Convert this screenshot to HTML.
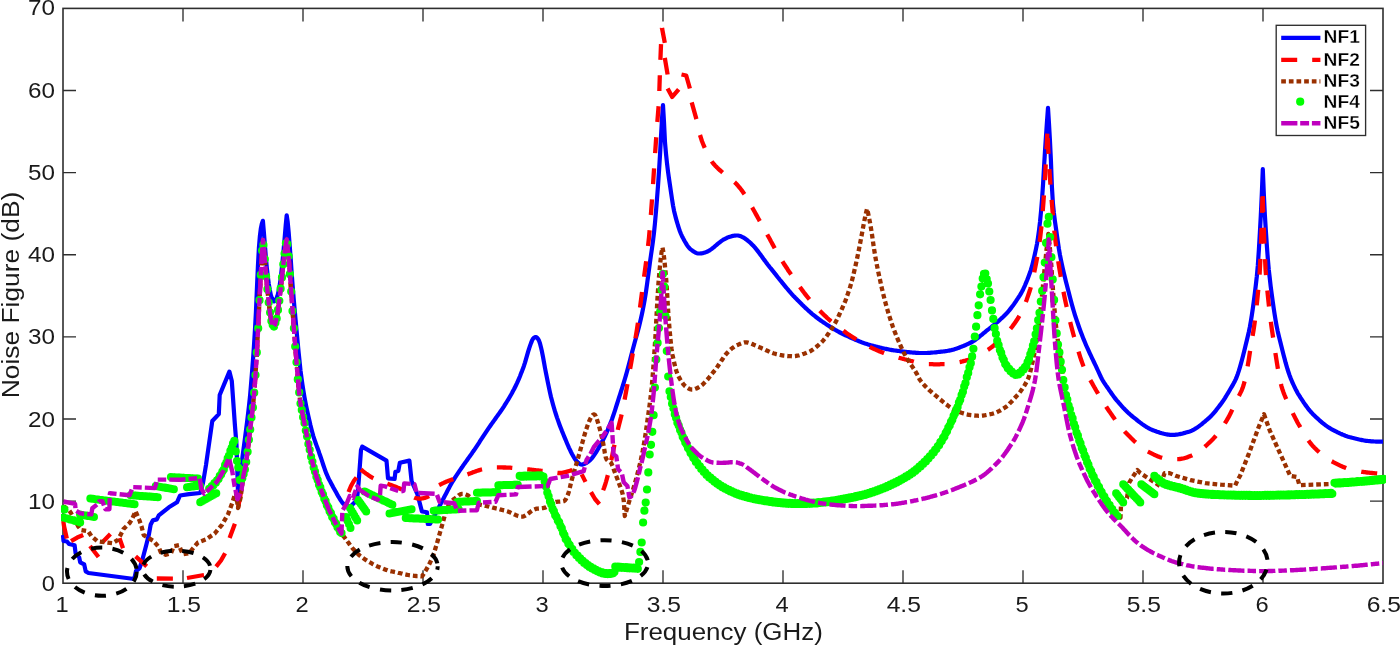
<!DOCTYPE html>
<html lang="en"><head><meta charset="utf-8"><title>Noise Figure vs Frequency</title>
<style>html,body{margin:0;padding:0;background:#fff}body{width:1400px;height:645px;overflow:hidden}svg{display:block}</style></head>
<body>
<svg width="1400" height="645" viewBox="0 0 1400 645">
<rect width="1400" height="645" fill="#fff"/>
<defs><clipPath id="c"><rect x="61.0" y="8.4" width="1325.0" height="574.8"/></clipPath></defs>
<g stroke="#2e2e2e" stroke-width="1.6" fill="none">
<rect x="63.0" y="8.4" width="1320.0" height="574.8"/>
<path d="M183.0 583.2v-13M183.0 8.4v13M303.0 583.2v-13M303.0 8.4v13M423.0 583.2v-13M423.0 8.4v13M543.0 583.2v-13M543.0 8.4v13M663.0 583.2v-13M663.0 8.4v13M783.0 583.2v-13M783.0 8.4v13M903.0 583.2v-13M903.0 8.4v13M1023.0 583.2v-13M1023.0 8.4v13M1143.0 583.2v-13M1143.0 8.4v13M1263.0 583.2v-13M1263.0 8.4v13M63.0 501.1h13M1383.0 501.1h-13M63.0 419.0h13M1383.0 419.0h-13M63.0 336.9h13M1383.0 336.9h-13M63.0 254.7h13M1383.0 254.7h-13M63.0 172.6h13M1383.0 172.6h-13M63.0 90.5h13M1383.0 90.5h-13" stroke-width="1.35"/>
</g>
<g fill="none" stroke-linejoin="round" clip-path="url(#c)">
<path d="M63.0 535.0L63.5 541.0L67.0 541.5L69.0 544.0L74.6 545.2L75.6 553.3L79.2 557.3L80.2 562.3L84.2 564.4L85.7 571.4L88.5 573.0L134.3 579.0L136.0 571.0L139.5 568.4L142.5 559.3L146.2 545.2L149.0 534.0L150.7 524.4L152.8 520.4L156.8 519.4L158.8 515.4L168.9 507.3L177.0 502.3L180.0 495.5L189.0 494.2L200.2 493.0L203.0 483.0L206.0 465.0L212.3 421.0L218.8 414.1L219.7 395.0L229.4 371.6L231.8 381.0L234.9 425.0L236.5 445.0L238.0 492.0L239.0 484.2L240.0 476.4L241.0 468.5L242.0 460.7L243.0 453.0L244.0 445.5L245.0 437.9L246.0 430.3L247.0 422.4L248.0 414.3L249.0 405.8L250.0 396.6L250.9 385.9L251.9 373.7L252.9 360.8L253.9 346.8L254.9 330.9L255.9 312.5L256.9 289.2L257.9 266.6L258.9 247.9L259.9 236.0L260.9 228.1L261.9 223.4L262.9 220.8L263.9 232.6L264.9 244.9L265.9 257.9L266.9 268.6L267.9 277.2L268.8 284.1L269.8 289.8L270.8 294.8L271.8 297.8L272.8 300.0L273.8 301.4L274.8 301.2L275.8 299.7L276.8 297.5L277.8 294.6L278.8 290.0L279.8 284.4L280.8 277.8L281.7 269.2L282.7 259.7L283.7 248.9L284.7 237.4L285.7 225.3L286.7 215.3L287.7 222.1L288.7 232.6L289.7 245.6L290.7 258.7L291.6 272.2L292.6 285.4L293.6 297.6L294.6 309.2L295.6 320.3L296.6 331.0L297.6 341.6L298.6 352.1L299.6 361.8L300.5 370.4L301.5 378.0L302.5 385.0L303.5 391.4L304.5 397.3L305.5 402.6L306.5 407.6L307.5 412.3L308.5 416.7L309.5 420.9L310.4 425.0L311.4 429.0L312.4 432.8L313.4 436.3L314.4 439.4L315.4 442.3L316.4 445.1L317.4 447.8L318.4 450.4L319.3 453.2L320.3 456.0L321.3 458.9L322.3 461.9L323.3 465.0L324.3 467.9L325.3 470.7L326.3 473.4L327.3 475.7L328.2 477.8L329.2 479.7L330.2 481.5L331.2 483.4L332.2 485.3L333.2 487.2L334.2 489.0L335.2 490.8L336.2 492.6L337.2 494.4L338.1 496.1L339.1 497.7L340.1 499.3L341.1 500.9L342.1 502.4L343.1 503.5L344.1 504.3L345.1 505.0L346.1 505.5L347.0 505.8L348.0 506.1L349.0 506.2L350.0 506.2L351.0 506.0L357.0 500.0L358.6 482.7L361.0 450.0L362.2 446.6L386.5 460.6L388.0 478.3L394.6 479.0L395.4 471.7L398.3 470.9L399.8 462.8L409.4 460.6L411.6 481.2L417.5 494.5L421.9 511.4L427.0 512.2L427.8 524.0L430.0 524.0L431.0 522.1L432.0 520.2L433.0 518.3L434.0 516.5L435.0 514.6L436.0 512.7L437.0 510.8L438.0 508.9L439.0 507.1L440.0 505.2L441.0 503.3L442.0 501.4L443.0 499.5L444.0 497.5L445.0 495.6L446.0 493.7L447.0 491.7L448.0 489.8L449.0 487.9L450.0 486.1L451.0 484.3L452.0 482.5L453.0 480.9L454.0 479.3L455.0 477.7L456.0 476.1L457.0 474.6L458.0 473.1L459.0 471.6L460.0 470.1L461.0 468.7L462.0 467.3L463.0 465.8L464.0 464.4L465.0 463.0L466.0 461.6L467.0 460.2L468.0 458.8L469.0 457.4L470.0 456.0L471.0 454.6L472.0 453.2L473.0 451.7L474.0 450.3L475.0 448.8L476.0 447.3L477.0 445.8L478.0 444.3L479.0 442.8L480.0 441.2L481.0 439.7L482.0 438.2L483.0 436.6L484.0 435.1L485.0 433.6L486.0 432.1L487.0 430.6L488.0 429.1L489.0 427.6L490.0 426.2L491.0 424.8L492.0 423.4L493.0 422.0L494.0 420.6L495.0 419.2L496.0 417.8L497.0 416.4L498.0 415.0L499.0 413.6L500.0 412.2L501.0 410.8L502.0 409.3L503.0 407.8L504.0 406.3L505.0 404.7L506.0 403.1L507.0 401.5L508.0 399.9L509.0 398.2L510.0 396.5L511.0 394.8L512.0 393.0L513.0 391.1L514.0 389.3L515.0 387.3L516.0 385.3L517.0 383.2L518.0 380.9L519.0 378.6L520.0 376.2L521.0 373.6L522.0 371.1L523.0 368.4L524.0 365.7L525.0 362.6L526.0 359.2L527.0 355.7L528.0 352.2L529.0 348.9L530.0 345.9L531.0 343.1L532.0 340.6L533.0 338.8L534.0 337.8L535.0 337.1L536.0 337.0L537.0 337.7L538.0 338.9L539.0 340.6L540.0 343.5L541.0 347.4L542.0 351.8L543.0 356.9L544.0 362.4L545.0 368.0L546.0 373.2L547.0 378.2L548.0 383.1L549.0 387.9L550.0 392.6L551.0 396.9L552.0 400.8L553.0 404.5L554.0 408.0L555.0 411.4L556.0 414.5L557.0 417.6L558.0 420.4L559.0 423.2L560.0 425.9L561.0 428.5L562.0 431.1L563.0 433.5L564.0 436.0L565.0 438.4L566.0 440.8L567.0 443.2L568.0 445.5L569.0 447.8L570.0 449.9L571.0 452.0L572.0 453.9L573.0 455.7L574.0 457.5L575.0 459.1L576.0 460.5L577.0 461.6L578.0 462.5L579.0 463.4L580.0 464.1L581.0 464.5L582.0 464.6L583.0 464.4L584.0 464.0L585.0 463.5L586.0 463.0L587.0 462.5L588.0 461.8L589.0 461.0L590.0 460.2L591.0 459.2L592.0 458.1L593.0 456.8L594.0 455.4L595.0 453.9L596.0 452.4L597.0 450.7L598.0 449.0L599.0 447.2L600.0 445.4L601.0 443.6L602.0 441.7L603.0 439.9L604.0 438.0L605.0 436.0L606.0 433.9L607.0 431.6L608.0 429.3L609.0 426.9L610.0 424.4L611.0 421.9L612.0 419.2L613.0 416.3L614.0 413.4L615.0 410.3L616.0 407.2L617.0 404.0L618.0 400.9L619.0 397.7L620.0 394.6L621.0 391.5L622.0 388.3L623.0 385.1L624.0 381.9L625.0 378.5L626.0 375.1L627.0 371.5L628.0 367.9L629.0 364.1L630.0 360.2L631.0 356.4L632.0 352.5L633.0 348.7L634.0 345.0L635.0 341.3L636.0 337.7L637.0 334.1L638.0 330.4L639.0 326.6L640.0 322.6L641.0 318.3L642.0 313.8L643.0 308.9L644.0 303.7L645.0 298.0L646.0 291.6L647.0 284.5L648.0 277.0L649.0 269.4L650.0 262.0L651.0 255.0L652.0 248.2L653.0 241.0L654.0 232.8L655.0 222.9L656.0 211.3L657.0 198.9L658.0 185.8L659.0 171.1L660.0 155.0L661.0 136.5L662.0 118.8L663.0 105.0L664.0 122.0L665.0 142.5L666.0 153.8L667.0 163.3L668.0 171.4L669.0 178.6L670.0 185.4L671.0 192.3L672.0 199.0L673.0 205.3L674.0 210.7L675.0 214.8L676.0 218.6L677.0 222.1L678.0 225.5L679.0 228.6L680.0 231.5L681.0 234.0L682.0 236.2L683.0 238.1L684.0 239.9L685.0 241.7L686.0 243.4L687.0 245.1L688.0 246.5L689.0 247.8L690.0 248.8L691.0 249.6L692.0 250.3L693.0 251.1L694.0 251.7L695.0 252.4L696.0 252.9L697.0 253.3L698.0 253.5L699.0 253.5L700.0 253.5L701.0 253.4L702.0 253.3L703.0 253.1L704.0 252.8L705.0 252.5L706.0 252.1L707.0 251.7L708.0 251.3L709.0 250.7L710.0 250.1L711.0 249.4L712.0 248.7L713.0 247.9L714.0 247.1L715.0 246.2L716.0 245.4L717.0 244.5L718.0 243.7L719.0 242.9L720.0 242.1L721.0 241.3L722.0 240.6L723.0 239.9L724.0 239.3L725.0 238.8L726.0 238.3L727.0 237.8L728.0 237.4L729.0 237.0L730.0 236.7L731.0 236.4L732.0 236.1L733.0 235.9L734.0 235.7L735.0 235.6L736.0 235.5L737.0 235.5L738.0 235.5L739.0 235.7L740.0 236.0L741.0 236.3L742.0 236.8L743.0 237.3L744.0 237.9L745.0 238.5L746.0 239.3L747.0 240.0L748.0 240.8L749.0 241.6L750.0 242.5L751.0 243.4L752.0 244.4L753.0 245.4L754.0 246.5L755.0 247.7L756.0 248.9L757.0 250.1L758.0 251.4L759.0 252.7L760.0 254.1L761.0 255.4L762.0 256.8L763.0 258.2L764.0 259.6L765.0 260.9L766.0 262.3L767.0 263.6L768.0 265.0L769.0 266.2L770.0 267.5L771.0 268.7L772.0 269.9L773.0 271.2L774.0 272.4L775.0 273.7L776.0 274.9L777.0 276.2L778.0 277.5L779.0 278.7L780.0 280.0L781.0 281.2L782.0 282.4L783.0 283.7L784.0 284.9L785.0 286.1L786.0 287.3L787.0 288.5L788.0 289.7L789.0 290.9L790.0 292.0L791.0 293.2L792.0 294.3L793.0 295.4L794.0 296.4L795.0 297.5L796.0 298.5L797.0 299.5L798.0 300.6L799.0 301.6L800.0 302.6L801.0 303.6L802.0 304.6L803.0 305.5L804.0 306.5L805.0 307.4L806.0 308.4L807.0 309.3L808.0 310.2L809.0 311.1L810.0 312.0L811.0 312.9L812.0 313.8L813.0 314.6L814.0 315.4L815.0 316.2L816.0 317.0L817.0 317.8L818.0 318.5L819.0 319.3L820.0 320.0L821.0 320.7L822.0 321.4L823.0 322.1L824.0 322.7L825.0 323.4L826.0 324.1L827.0 324.8L828.0 325.4L829.0 326.0L830.0 326.7L831.0 327.3L832.0 327.9L833.0 328.5L834.0 329.1L835.0 329.7L836.0 330.3L837.0 330.9L838.0 331.4L839.0 332.0L840.0 332.5L841.0 333.0L842.0 333.5L843.0 334.0L844.0 334.5L845.0 335.0L846.0 335.5L847.0 335.9L848.0 336.4L849.0 336.8L850.0 337.3L851.0 337.8L852.0 338.2L853.0 338.6L854.0 339.1L855.0 339.5L856.0 340.0L857.0 340.4L858.0 340.8L859.0 341.2L860.0 341.6L861.0 342.0L862.0 342.4L863.0 342.7L864.0 343.1L865.0 343.5L866.0 343.8L867.0 344.1L868.0 344.4L869.0 344.7L870.0 345.0L871.0 345.3L872.0 345.5L873.0 345.8L874.0 346.1L875.0 346.3L876.0 346.6L877.0 346.8L878.0 347.1L879.0 347.3L880.0 347.6L881.0 347.8L882.0 348.1L883.0 348.3L884.0 348.5L885.0 348.7L886.0 348.9L887.0 349.1L888.0 349.3L889.0 349.5L890.0 349.7L891.0 349.9L892.0 350.1L893.0 350.2L894.0 350.4L895.0 350.5L896.0 350.6L897.0 350.8L898.0 350.9L899.0 351.0L900.0 351.2L901.0 351.3L902.0 351.4L903.0 351.5L904.0 351.7L905.0 351.8L906.0 351.9L907.0 352.0L908.0 352.1L909.0 352.2L910.0 352.3L911.0 352.4L912.0 352.5L913.0 352.6L914.0 352.7L915.0 352.7L916.0 352.8L917.0 352.9L918.0 352.9L919.0 353.0L920.0 353.0L921.0 353.0L922.0 353.0L923.0 353.0L924.0 353.0L925.0 353.0L926.0 353.0L927.0 353.0L928.0 352.9L929.0 352.8L930.0 352.8L931.0 352.7L932.0 352.6L933.0 352.5L934.0 352.5L935.0 352.4L936.0 352.3L937.0 352.2L938.0 352.0L939.0 351.9L940.0 351.8L941.0 351.7L942.0 351.6L943.0 351.5L944.0 351.4L945.0 351.3L946.0 351.1L947.0 351.0L948.0 350.8L949.0 350.6L950.0 350.4L951.0 350.2L952.0 349.9L953.0 349.7L954.0 349.4L955.0 349.1L956.0 348.8L957.0 348.4L958.0 348.1L959.0 347.7L960.0 347.3L961.0 346.9L962.0 346.5L963.0 346.1L964.0 345.7L965.0 345.3L966.0 344.8L967.0 344.4L968.0 343.9L969.0 343.5L970.0 343.0L971.0 342.5L972.0 342.0L973.0 341.4L974.0 340.7L975.0 340.1L976.0 339.3L977.0 338.6L978.0 337.8L979.0 337.0L980.0 336.2L981.0 335.4L982.0 334.6L983.0 333.7L984.0 332.9L985.0 332.1L986.0 331.2L987.0 330.4L988.0 329.6L989.0 328.9L990.0 328.1L991.0 327.3L992.0 326.5L993.0 325.6L994.0 324.8L995.0 324.0L996.0 323.2L997.0 322.3L998.0 321.5L999.0 320.6L1000.0 319.7L1001.0 318.8L1002.0 317.9L1003.0 317.0L1004.0 316.0L1005.0 315.0L1006.0 314.0L1007.0 313.0L1008.0 311.8L1009.0 310.7L1010.0 309.4L1011.0 308.1L1012.0 306.8L1013.0 305.5L1014.0 304.1L1015.0 302.6L1016.0 301.2L1017.0 299.7L1018.0 298.2L1019.0 296.6L1020.0 295.1L1021.0 293.4L1022.0 291.6L1023.0 289.7L1024.0 287.5L1025.0 285.3L1026.0 282.9L1027.0 280.5L1028.0 277.9L1029.0 275.3L1030.0 272.6L1031.0 269.7L1032.0 266.2L1033.0 262.2L1034.0 258.0L1035.0 253.5L1036.0 248.9L1037.0 243.8L1038.0 237.5L1039.0 230.4L1040.0 222.0L1041.0 211.6L1042.0 199.6L1043.0 184.8L1044.0 167.5L1045.0 150.8L1046.0 135.8L1047.0 121.5L1048.0 107.9L1048.9 122.1L1049.9 139.6L1050.9 160.1L1051.9 186.6L1052.9 203.1L1053.9 213.0L1054.9 220.9L1055.9 227.9L1056.9 235.0L1057.9 242.1L1058.9 248.9L1059.9 254.7L1060.9 259.7L1061.9 264.4L1062.9 268.9L1063.9 273.2L1064.9 277.3L1065.9 281.4L1066.9 285.3L1067.9 289.2L1068.9 293.1L1069.9 297.0L1070.9 300.8L1071.9 304.5L1072.9 308.1L1073.9 311.5L1074.9 314.8L1075.9 317.9L1076.9 320.9L1077.9 323.8L1078.9 326.7L1079.9 329.5L1080.9 332.2L1081.9 334.8L1082.9 337.4L1083.9 339.9L1084.9 342.3L1085.9 344.7L1086.9 347.0L1087.9 349.2L1088.9 351.4L1089.9 353.6L1090.9 355.7L1091.9 357.8L1092.9 359.9L1093.9 362.0L1094.9 364.1L1095.9 366.2L1096.9 368.3L1097.9 370.5L1098.9 372.7L1099.9 374.9L1100.9 377.0L1101.9 378.9L1102.9 380.7L1103.9 382.4L1104.9 383.9L1105.9 385.4L1106.9 386.8L1107.9 388.2L1108.9 389.7L1109.9 391.1L1110.9 392.5L1111.9 394.0L1112.9 395.4L1113.9 396.8L1114.9 398.1L1115.9 399.4L1116.9 400.6L1117.9 401.7L1118.9 402.9L1119.9 404.0L1120.9 405.2L1121.9 406.3L1122.9 407.4L1123.9 408.4L1124.9 409.5L1125.9 410.5L1126.9 411.5L1127.9 412.5L1128.9 413.4L1129.9 414.3L1130.9 415.2L1131.9 416.0L1132.9 416.8L1133.9 417.6L1134.9 418.4L1135.9 419.2L1136.9 420.0L1137.9 420.8L1138.9 421.6L1139.9 422.4L1140.9 423.1L1141.9 423.9L1142.9 424.6L1143.9 425.3L1144.9 425.9L1145.9 426.6L1146.9 427.2L1147.9 427.8L1148.9 428.4L1149.9 428.9L1150.9 429.4L1151.9 429.8L1152.9 430.2L1153.9 430.6L1154.9 430.9L1155.9 431.3L1156.9 431.7L1157.9 432.0L1158.9 432.3L1159.9 432.7L1160.9 433.0L1161.9 433.3L1162.9 433.5L1163.9 433.8L1164.9 434.0L1165.9 434.2L1166.9 434.4L1167.9 434.6L1168.9 434.7L1169.9 434.8L1170.9 434.9L1171.9 434.9L1172.9 434.9L1173.9 434.9L1174.9 434.8L1175.9 434.7L1176.9 434.6L1177.9 434.5L1178.9 434.3L1179.9 434.1L1180.9 433.9L1181.9 433.7L1182.9 433.4L1183.9 433.1L1184.9 432.9L1185.9 432.6L1186.9 432.3L1187.9 432.0L1188.9 431.7L1189.9 431.4L1190.9 431.0L1191.8 430.6L1192.8 430.1L1193.8 429.6L1194.8 429.0L1195.8 428.4L1196.8 427.8L1197.8 427.1L1198.8 426.4L1199.8 425.6L1200.8 424.9L1201.8 424.1L1202.8 423.2L1203.8 422.4L1204.8 421.6L1205.8 420.7L1206.8 419.9L1207.8 419.0L1208.8 418.2L1209.8 417.2L1210.8 416.2L1211.8 415.2L1212.8 414.1L1213.8 413.0L1214.8 411.8L1215.8 410.6L1216.8 409.3L1217.8 408.0L1218.8 406.7L1219.8 405.4L1220.8 404.1L1221.8 402.7L1222.8 401.3L1223.8 399.8L1224.8 398.3L1225.8 396.7L1226.8 395.0L1227.8 393.4L1228.8 391.7L1229.8 390.0L1230.8 388.3L1231.8 386.6L1232.8 384.9L1233.8 383.1L1234.8 381.2L1235.8 379.1L1236.8 376.6L1237.8 373.9L1238.8 370.9L1239.8 367.6L1240.8 364.2L1241.8 360.5L1242.8 356.7L1243.8 352.7L1244.8 348.7L1245.8 344.6L1246.8 340.4L1247.8 336.3L1248.8 332.0L1249.8 327.2L1250.8 321.6L1251.8 315.4L1252.8 308.6L1253.8 301.3L1254.8 293.5L1255.8 285.2L1256.8 276.5L1257.8 265.7L1258.8 250.9L1259.8 233.8L1260.8 215.6L1261.8 194.2L1262.8 169.1L1263.8 193.4L1264.8 213.9L1265.8 229.9L1266.8 244.9L1267.8 258.5L1268.8 269.9L1269.8 278.6L1270.7 286.4L1271.7 294.0L1272.7 301.4L1273.7 308.3L1274.7 314.8L1275.7 320.9L1276.7 326.3L1277.7 331.2L1278.7 335.4L1279.7 339.5L1280.7 343.6L1281.7 347.6L1282.7 351.5L1283.7 355.4L1284.7 359.1L1285.6 362.7L1286.6 366.2L1287.6 369.5L1288.6 372.5L1289.6 375.4L1290.6 378.1L1291.6 380.5L1292.6 382.8L1293.6 385.0L1294.6 387.1L1295.6 389.2L1296.6 391.1L1297.6 393.0L1298.6 394.7L1299.6 396.2L1300.5 397.7L1301.5 399.2L1302.5 400.7L1303.5 402.2L1304.5 403.6L1305.5 405.1L1306.5 406.4L1307.5 407.8L1308.5 409.1L1309.5 410.3L1310.5 411.5L1311.5 412.6L1312.5 413.7L1313.5 414.7L1314.5 415.6L1315.4 416.6L1316.4 417.5L1317.4 418.4L1318.4 419.3L1319.4 420.2L1320.4 421.1L1321.4 422.0L1322.4 422.8L1323.4 423.6L1324.4 424.4L1325.4 425.2L1326.4 425.9L1327.4 426.6L1328.4 427.3L1329.4 427.9L1330.4 428.5L1331.3 429.1L1332.3 429.6L1333.3 430.1L1334.3 430.6L1335.3 431.2L1336.3 431.7L1337.3 432.2L1338.3 432.6L1339.3 433.1L1340.3 433.6L1341.3 434.0L1342.3 434.5L1343.3 434.9L1344.3 435.3L1345.3 435.7L1346.2 436.0L1347.2 436.4L1348.2 436.7L1349.2 437.0L1350.2 437.2L1351.2 437.5L1352.2 437.8L1353.2 438.0L1354.2 438.3L1355.2 438.5L1356.2 438.8L1357.2 439.0L1358.2 439.3L1359.2 439.5L1360.2 439.7L1361.1 439.9L1362.1 440.1L1363.1 440.3L1364.1 440.5L1365.1 440.7L1366.1 440.8L1367.1 440.9L1368.1 441.0L1369.1 441.1L1370.1 441.2L1371.1 441.3L1372.1 441.3L1373.1 441.4L1374.1 441.5L1375.1 441.5L1376.0 441.6L1377.0 441.6L1378.0 441.7L1379.0 441.7L1380.0 441.7L1381.0 441.7L1382.0 441.7L1383.0 441.7" stroke="#0000ff" stroke-width="4.2"/>
<path d="M238.0 508.0L241.0 492.0L243.5 477.0L246.0 464.5L247.0 456.2L248.0 447.8L249.0 439.3L250.0 430.9L251.0 422.4L252.0 414.1L253.0 405.7L254.0 395.6L255.0 382.4L256.0 366.8L257.0 350.0L258.0 330.9L259.0 310.1L260.0 290.1L261.0 270.5L262.0 252.5L263.0 240.0L264.0 249.9L265.0 262.2L266.0 274.6L266.9 285.2L267.9 295.0L268.9 303.7L269.9 312.1L270.9 318.5L271.9 322.7L272.9 325.7L273.9 326.4L274.9 324.8L275.8 321.6L276.8 317.5L277.8 311.7L278.8 304.5L279.8 296.7L280.8 288.0L281.8 278.8L282.8 269.7L283.7 260.6L284.7 252.1L285.7 245.0L286.7 239.5L287.7 247.1L288.7 257.8L289.7 270.8L290.7 284.4L291.7 298.5L292.7 312.4L293.7 326.1L294.7 339.5L295.7 352.1L296.7 364.6L297.7 376.9L298.7 388.2L299.7 397.4L300.6 404.2L301.6 409.6L302.6 414.4L303.6 419.2L304.6 424.2L305.6 429.3L306.6 434.5L307.6 439.6L308.6 444.7L309.6 449.6L310.6 454.3L311.6 458.8L312.6 462.9L313.6 466.8L314.6 470.4L315.6 473.8L316.6 477.0L317.6 480.1L318.6 483.1L319.6 485.9L320.6 488.6L321.6 491.2L322.6 493.9L323.6 496.4L324.6 499.0L325.6 501.5L326.6 503.9L327.6 506.3L328.5 508.6L329.5 510.8L330.5 512.9L331.5 515.0L332.5 517.1L333.5 519.1L334.5 521.1L335.5 523.1L336.5 525.0L337.5 526.8L338.5 528.6L339.5 530.4L340.5 532.0L341.5 533.6" stroke="#ff0000" stroke-width="4.3" stroke-dasharray="15.5 15" stroke-dashoffset="0"/>
<path d="M360.8 469.5L361.8 470.3L362.8 471.1L363.8 471.9L364.8 472.6L365.8 473.4L366.8 474.1L367.8 474.8L368.8 475.5L369.8 476.2L370.8 476.8L371.8 477.4L372.8 478.0L373.8 478.5L374.8 479.0L375.8 479.4L376.8 479.8L377.8 480.2L378.7 480.6L379.7 481.0L380.7 481.3L381.7 481.7L382.7 482.0L383.7 482.4L384.7 482.7L385.7 483.1L386.7 483.4L387.7 483.8L388.7 484.2L389.7 484.6L390.7 484.9L391.7 485.3L392.7 485.7L393.7 486.1L394.7 486.4L395.7 486.8L396.7 487.2L397.7 487.7L398.7 488.1L399.7 488.5L400.7 489.0L401.7 489.6L402.7 490.2L403.7 490.9L404.7 491.6L405.7 492.3L406.7 493.0L407.7 493.7L408.7 494.4L409.7 495.1L410.7 495.7L411.7 496.3L412.7 496.9L413.7 497.3L414.6 497.7L415.6 498.0L416.6 498.3L417.6 498.4L418.6 498.5L419.6 498.6L420.6 498.6L421.6 498.5L422.6 498.3L423.6 498.1L424.6 497.9L425.6 497.6L426.6 497.2L427.6 496.8L428.6 496.3L429.6 495.8L430.6 495.0L431.6 493.9L432.6 492.5L433.6 491.1L434.6 489.6L435.6 488.2L436.6 487.0L437.6 486.1L438.6 485.4L439.6 484.9L440.6 484.3L441.6 483.8L442.6 483.3L443.6 482.9L444.6 482.4L445.6 482.0L446.6 481.6L447.6 481.2L448.6 480.8L449.6 480.4L450.5 480.1L451.5 479.7L452.5 479.4L453.5 479.0L454.5 478.7L455.5 478.3L456.5 478.0L457.5 477.7L458.5 477.3L459.5 477.0L460.5 476.7L461.5 476.3L462.5 476.0L463.5 475.7L464.5 475.4L465.5 475.0L466.5 474.7L467.5 474.4L468.5 474.0L469.5 473.6L470.5 473.3L471.5 472.9L472.5 472.5L473.5 472.1L474.5 471.8L475.5 471.4L476.5 471.0L477.5 470.7L478.5 470.4L479.5 470.1L480.5 469.8L481.5 469.5L482.5 469.3L483.5 469.1L484.5 468.9L485.5 468.7L486.4 468.5L487.4 468.4L488.4 468.2L489.4 468.0L490.4 467.9L491.4 467.8L492.4 467.7L493.4 467.6L494.4 467.5L495.4 467.4L496.4 467.4L497.4 467.4L498.4 467.4L499.4 467.4L500.4 467.4L501.4 467.4L502.4 467.4L503.4 467.5L504.4 467.5L505.4 467.5L506.4 467.6L507.4 467.6L508.4 467.6L509.4 467.7L510.4 467.7L511.4 467.8L512.4 467.9L513.4 467.9L514.4 468.0L515.4 468.1L516.4 468.2L517.4 468.3L518.4 468.4L519.4 468.5L520.4 468.6L521.4 468.7L522.3 468.8L523.3 468.9L524.3 469.0L525.3 469.1L526.3 469.2L527.3 469.3L528.3 469.4L529.3 469.5L530.3 469.6L531.3 469.7L532.3 469.8L533.3 469.9L534.3 470.1L535.3 470.2L536.3 470.3L537.3 470.4L538.3 470.5L539.3 470.6L540.3 470.7L541.3 470.8L542.3 470.9L543.3 471.0L544.3 471.1L545.3 471.3L546.3 471.4L547.3 471.5L548.3 471.7L549.3 471.8L550.3 472.0L551.3 472.2L552.3 472.3L553.3 472.4L554.3 472.6L555.3 472.7L556.3 472.8L557.3 472.9L558.2 473.0L559.2 473.0L560.2 473.0L561.2 472.9L562.2 472.8L563.2 472.6L564.2 472.4L565.2 472.2L566.2 471.9L567.2 471.6L568.2 471.3L569.2 471.0L570.2 470.7L571.2 470.4L572.2 470.1L573.2 469.7L574.2 469.3L575.2 468.8" stroke="#ff0000" stroke-width="4.3" stroke-dasharray="15.46 14.97" stroke-dashoffset="0.10"/>
<path d="M603.1 490.2L604.1 487.7L605.1 484.8L606.1 481.5L607.1 477.9L608.1 474.2L609.1 470.0L610.1 465.6L611.1 460.9L612.1 456.1L613.1 451.3L614.1 446.6L615.1 442.0L616.1 437.4L617.1 432.9L618.1 428.5L619.1 424.4L620.1 420.6L621.1 416.7L622.1 412.3L623.1 407.4L624.1 402.2L625.1 396.9L626.1 391.5L627.1 386.0L628.1 380.4L629.1 374.7L630.1 369.0L631.1 363.3L632.1 357.7L633.0 352.1L634.0 346.6L635.0 341.0L636.0 335.2L637.0 329.0L638.0 322.3L639.0 315.2L640.0 307.7L641.0 300.1L642.0 292.4L643.0 284.8L644.0 277.3L645.0 270.0L646.0 262.6L647.0 254.8L648.0 246.5L649.0 237.4L650.0 226.0L651.0 213.1L652.0 199.4L653.0 184.7L654.0 169.6L655.0 154.8L656.0 140.4L657.0 126.1L658.0 113.7L659.0 101.4L660.0 69.8L661.0 44.9L662.0 28.0" stroke="#ff0000" stroke-width="4.3" stroke-dasharray="15.79 15.29" stroke-dashoffset="0.02"/>
<path d="M700.0 135.0L701.0 138.2L702.0 141.2L703.0 143.7L704.0 146.1L705.0 148.4L706.0 150.5L707.0 152.5L708.0 154.6L709.0 156.6L710.0 158.5L711.0 160.3L712.0 161.8L713.0 163.1L714.0 164.3L715.0 165.4L716.0 166.4L717.0 167.5L718.0 168.4L719.0 169.4L720.0 170.3L721.0 171.1L722.0 172.0L723.0 172.9L724.0 173.7L725.0 174.5L726.0 175.3L727.0 176.0L728.0 176.8L729.0 177.5L729.9 178.3L730.9 179.0L731.9 179.8L732.9 180.6L733.9 181.5L734.9 182.4L735.9 183.4L736.9 184.5L737.9 185.6L738.9 186.8L739.9 188.0L740.9 189.3L741.9 190.6L742.9 192.0L743.9 193.4L744.9 194.9L745.9 196.4L746.9 198.0L747.9 199.7L748.9 201.4L749.9 203.2L750.9 205.0L751.9 206.9L752.9 208.7L753.9 210.5L754.9 212.3L755.9 214.1L756.9 215.9L757.9 217.7L758.9 219.5L759.9 221.3L760.9 223.1L761.9 224.9L762.9 226.7L763.9 228.5L764.9 230.3L765.9 232.1L766.9 233.9L767.9 235.7L768.9 237.5L769.9 239.3L770.9 241.2L771.9 243.0L772.9 244.9L773.9 246.7L774.9 248.6L775.9 250.4L776.9 252.1L777.9 253.9L778.9 255.6L779.9 257.3L780.9 258.9L781.9 260.5L782.9 262.1L783.9 263.7L784.9 265.2L785.9 266.7L786.9 268.2L787.8 269.7L788.8 271.2L789.8 272.6L790.8 274.1L791.8 275.5L792.8 276.9L793.8 278.4L794.8 279.8L795.8 281.2L796.8 282.6L797.8 284.0L798.8 285.4L799.8 286.8L800.8 288.2L801.8 289.6L802.8 290.9L803.8 292.3L804.8 293.6L805.8 294.9L806.8 296.2L807.8 297.4L808.8 298.6L809.8 299.8L810.8 300.9L811.8 302.0L812.8 303.2L813.8 304.3L814.8 305.4L815.8 306.5L816.8 307.5L817.8 308.6L818.8 309.7L819.8 310.7L820.8 311.7L821.8 312.7L822.8 313.7L823.8 314.7L824.8 315.7L825.8 316.6L826.8 317.6L827.8 318.5L828.8 319.4L829.8 320.2L830.8 321.1L831.8 321.9L832.8 322.7L833.8 323.5L834.8 324.3L835.8 325.1L836.8 325.9L837.8 326.6L838.8 327.4L839.8 328.2L840.8 328.9L841.8 329.6L842.8 330.4L843.8 331.1L844.8 331.8L845.7 332.5L846.7 333.2L847.7 333.9L848.7 334.6L849.7 335.2L850.7 335.9L851.7 336.5L852.7 337.2L853.7 337.8L854.7 338.4L855.7 339.0L856.7 339.6L857.7 340.1L858.7 340.7L859.7 341.3L860.7 341.8L861.7 342.4L862.7 343.0L863.7 343.5L864.7 344.1L865.7 344.6L866.7 345.2L867.7 345.7L868.7 346.2L869.7 346.7L870.7 347.3L871.7 347.8L872.7 348.3L873.7 348.8L874.7 349.2L875.7 349.7L876.7 350.1L877.7 350.6L878.7 351.0L879.7 351.4L880.7 351.8L881.7 352.2L882.7 352.6L883.7 352.9L884.7 353.3L885.7 353.6L886.7 354.0L887.7 354.3L888.7 354.6L889.7 355.0L890.7 355.3L891.7 355.6L892.7 355.9L893.7 356.2L894.7 356.5L895.7 356.8L896.7 357.1L897.7 357.4L898.7 357.7L899.7 358.0L900.7 358.2L901.7 358.5L902.7 358.8L903.6 359.0L904.6 359.3L905.6 359.5L906.6 359.8L907.6 360.0L908.6 360.3L909.6 360.5L910.6 360.8L911.6 361.0L912.6 361.3L913.6 361.5L914.6 361.8L915.6 362.0L916.6 362.3L917.6 362.5L918.6 362.7L919.6 362.9L920.6 363.1L921.6 363.3L922.6 363.4L923.6 363.6L924.6 363.7L925.6 363.8L926.6 363.9L927.6 364.0L928.6 364.1L929.6 364.1L930.6 364.2L931.6 364.2L932.6 364.2L933.6 364.3L934.6 364.3L935.6 364.3L936.6 364.3L937.6 364.3L938.6 364.3L939.6 364.3L940.6 364.2L941.6 364.2L942.6 364.2L943.6 364.1L944.6 364.1L945.6 364.0L946.6 364.0L947.6 363.9L948.6 363.8L949.6 363.8L950.6 363.7L951.6 363.6L952.6 363.5L953.6 363.3L954.6 363.2L955.6 363.0L956.6 362.8L957.6 362.6L958.6 362.4L959.6 362.1L960.6 361.9L961.5 361.6L962.5 361.4L963.5 361.1L964.5 360.8L965.5 360.6L966.5 360.3L967.5 360.0L968.5 359.7L969.5 359.4L970.5 359.0L971.5 358.6L972.5 358.2L973.5 357.8L974.5 357.3L975.5 356.8L976.5 356.3L977.5 355.8L978.5 355.3L979.5 354.7L980.5 354.1L981.5 353.6L982.5 353.0L983.5 352.4L984.5 351.8L985.5 351.2L986.5 350.6L987.5 350.0L988.5 349.4L989.5 348.7L990.5 348.0L991.5 347.3L992.5 346.5L993.5 345.7L994.5 344.8L995.5 344.0L996.5 343.1L997.5 342.2L998.5 341.3L999.5 340.3L1000.5 339.4L1001.5 338.4L1002.5 337.5L1003.5 336.5L1004.5 335.5L1005.5 334.5L1006.5 333.5L1007.5 332.4L1008.5 331.3L1009.5 330.1L1010.5 328.8L1011.5 327.5L1012.5 326.2L1013.5 324.8L1014.5 323.4L1015.5 322.0L1016.5 320.5L1017.5 319.0L1018.5 317.4L1019.4 315.9L1020.4 314.3L1021.4 312.4L1022.4 310.4L1023.4 308.2L1024.4 305.7L1025.4 303.2L1026.4 300.5L1027.4 297.6L1028.4 294.7L1029.4 291.7L1030.4 288.6L1031.4 285.0L1032.4 280.9L1033.4 276.4L1034.4 271.6L1035.4 266.6L1036.4 261.6L1037.4 256.2L1038.4 250.0L1039.4 243.2L1040.4 235.7L1041.4 226.7L1042.4 215.3L1043.4 202.5L1044.4 188.1L1045.4 170.9L1046.4 152.3L1047.4 131.1" stroke="#ff0000" stroke-width="4.3" stroke-dasharray="15.73 15.24" stroke-dashoffset="2.08"/>
<path d="M1047.4 131.1L1048.4 152.7L1049.4 169.5L1050.4 184.1L1051.4 197.2L1052.4 209.4L1053.4 221.2L1054.4 231.8L1055.4 240.6L1056.4 248.4L1057.4 255.7L1058.4 262.4L1059.4 268.7L1060.4 274.5L1061.3 280.1L1062.3 285.6L1063.3 290.9L1064.3 296.0L1065.3 300.8L1066.3 305.4L1067.3 309.7L1068.3 314.0L1069.3 318.3L1070.3 322.4L1071.3 326.4L1072.3 330.3L1073.3 334.0L1074.3 337.6L1075.3 341.0L1076.3 344.4L1077.3 347.7L1078.3 351.0L1079.3 354.2L1080.3 357.3L1081.3 360.3L1082.3 363.1L1083.3 365.8L1084.3 368.3L1085.3 370.6L1086.3 372.6L1087.3 374.6L1088.2 376.4L1089.2 378.2L1090.2 379.9L1091.2 381.7L1092.2 383.4L1093.2 385.2L1094.2 387.0L1095.2 388.7L1096.2 390.5L1097.2 392.2L1098.2 393.9L1099.2 395.6L1100.2 397.3L1101.2 399.0L1102.2 400.6L1103.2 402.2L1104.2 403.7L1105.2 405.2L1106.2 406.7L1107.2 408.2L1108.2 409.7L1109.2 411.2L1110.2 412.6L1111.2 414.1L1112.2 415.5L1113.2 416.9L1114.2 418.3L1115.1 419.7L1116.1 421.1L1117.1 422.4L1118.1 423.7L1119.1 425.0L1120.1 426.3L1121.1 427.5L1122.1 428.7L1123.1 429.8L1124.1 430.9L1125.1 432.0L1126.1 433.0L1127.1 434.0L1128.1 435.1L1129.1 436.1L1130.1 437.1L1131.1 438.1L1132.1 439.0L1133.1 440.0L1134.1 441.0L1135.1 441.9L1136.1 442.8L1137.1 443.7L1138.1 444.6L1139.1 445.5L1140.1 446.3L1141.1 447.1L1142.0 447.8L1143.0 448.6L1144.0 449.3L1145.0 449.9L1146.0 450.6L1147.0 451.2L1148.0 451.7L1149.0 452.2L1150.0 452.7L1151.0 453.2L1152.0 453.7L1153.0 454.2L1154.0 454.7L1155.0 455.1L1156.0 455.6L1157.0 456.0L1158.0 456.4L1159.0 456.8L1160.0 457.2L1161.0 457.5L1162.0 457.8L1163.0 458.1L1164.0 458.4L1165.0 458.6L1166.0 458.8L1167.0 458.9L1168.0 459.0L1168.9 459.1L1169.9 459.2L1170.9 459.2L1171.9 459.3L1172.9 459.3L1173.9 459.3L1174.9 459.3L1175.9 459.3L1176.9 459.2L1177.9 459.2L1178.9 459.1L1179.9 459.0L1180.9 458.9L1181.9 458.7L1182.9 458.5L1183.9 458.3L1184.9 458.0L1185.9 457.7L1186.9 457.4L1187.9 457.0L1188.9 456.6L1189.9 456.2L1190.9 455.8L1191.9 455.4L1192.9 454.9L1193.9 454.5L1194.9 454.0L1195.8 453.5L1196.8 453.0L1197.8 452.3L1198.8 451.7L1199.8 450.9L1200.8 450.2L1201.8 449.4L1202.8 448.5L1203.8 447.7L1204.8 446.8L1205.8 445.9L1206.8 445.0L1207.8 444.0L1208.8 443.1L1209.8 442.2L1210.8 441.2L1211.8 440.2L1212.8 439.2L1213.8 438.1L1214.8 437.0L1215.8 435.8L1216.8 434.6L1217.8 433.4L1218.8 432.1L1219.8 430.8L1220.8 429.4L1221.8 428.0L1222.7 426.5L1223.7 425.0L1224.7 423.5L1225.7 422.0L1226.7 420.4L1227.7 418.7L1228.7 416.9L1229.7 415.0L1230.7 413.0L1231.7 410.9L1232.7 408.8L1233.7 406.7L1234.7 404.6L1235.7 402.5L1236.7 400.4L1237.7 398.3L1238.7 396.4L1239.7 394.4L1240.7 392.4L1241.7 390.3L1242.7 387.8L1243.7 384.7L1244.7 380.9L1245.7 376.4L1246.7 371.3L1247.7 365.9L1248.7 360.1L1249.6 354.1L1250.6 348.0L1251.6 341.9L1252.6 335.9L1253.6 329.9L1254.6 323.0L1255.6 315.1L1256.6 306.3L1257.6 296.5L1258.6 285.9L1259.6 274.3L1260.6 254.7L1261.6 226.2L1262.6 194.3" stroke="#ff0000" stroke-width="4.3" stroke-dasharray="15.70 15.20" stroke-dashoffset="23.80"/>
<path d="M1262.6 194.3L1263.6 223.2L1264.6 249.6L1265.6 269.9L1266.6 282.3L1267.6 293.1L1268.6 302.9L1269.6 311.9L1270.6 320.1L1271.6 327.5L1272.6 334.1L1273.5 340.5L1274.5 347.1L1275.5 353.7L1276.5 360.1L1277.5 366.4L1278.5 372.2L1279.5 377.6L1280.5 382.3L1281.5 386.3L1282.5 389.5L1283.5 392.4L1284.5 395.0L1285.5 397.4L1286.5 399.6L1287.5 401.8L1288.5 403.9L1289.5 406.0L1290.5 408.1L1291.5 410.2L1292.5 412.3L1293.4 414.4L1294.4 416.4L1295.4 418.4L1296.4 420.3L1297.4 422.2L1298.4 424.0L1299.4 425.7L1300.4 427.4L1301.4 429.1L1302.4 430.8L1303.4 432.5L1304.4 434.2L1305.4 435.8L1306.4 437.4L1307.4 438.9L1308.4 440.4L1309.4 441.8L1310.4 443.1L1311.4 444.4L1312.4 445.5L1313.3 446.6L1314.3 447.6L1315.3 448.5L1316.3 449.5L1317.3 450.5L1318.3 451.4L1319.3 452.3L1320.3 453.2L1321.3 454.0L1322.3 454.9L1323.3 455.7L1324.3 456.5L1325.3 457.2L1326.3 457.9L1327.3 458.6L1328.3 459.3L1329.3 459.9L1330.3 460.5L1331.3 461.0L1332.3 461.5L1333.2 462.1L1334.2 462.6L1335.2 463.1L1336.2 463.6L1337.2 464.1L1338.2 464.6L1339.2 465.1L1340.2 465.6L1341.2 466.1L1342.2 466.5L1343.2 466.9L1344.2 467.3L1345.2 467.7L1346.2 468.1L1347.2 468.4L1348.2 468.7L1349.2 469.0L1350.2 469.2L1351.2 469.4L1352.2 469.7L1353.1 469.9L1354.1 470.1L1355.1 470.4L1356.1 470.6L1357.1 470.8L1358.1 471.0L1359.1 471.2L1360.1 471.4L1361.1 471.6L1362.1 471.8L1363.1 471.9L1364.1 472.1L1365.1 472.2L1366.1 472.4L1367.1 472.5L1368.1 472.6L1369.1 472.7L1370.1 472.8L1371.1 472.9L1372.1 473.0L1373.0 473.1L1374.0 473.2L1375.0 473.3L1376.0 473.4L1377.0 473.5L1378.0 473.6L1379.0 473.6L1380.0 473.7L1381.0 473.7L1382.0 473.8L1383.0 473.8" stroke="#ff0000" stroke-width="4.3" stroke-dasharray="16.01 15.50" stroke-dashoffset="29.71"/>
<path d="M63.3 521.0L64.0 526.0L66.8 538.5M71.1 541.2L77.2 537.6L83.2 535.1M90.0 546.0L98.5 557.0M102.4 542.2L110.4 534.1M119.5 538.1L123.0 548.2M135.6 556.3L146.7 566.4M156.8 578.5L172.9 578.6M187.0 578.0L204.0 575.0M216.1 566.7L221.0 560.5L225.1 553.2M229.6 538.1L234.9 523.8M348.5 492.0L351.0 486.0L354.1 480.5L356.5 477.5M581.7 474.4L585.5 481.9M591.0 492.1L595.0 499.0L599.4 504.2M662.0 28.0L664.8 42.9M664.8 57.8L667.6 74.5M667.6 88.5L672.2 96.9L678.7 89.4M681.5 74.5L686.2 75.5L689.9 88.5M691.7 102.4L696.4 119.2" stroke="#ff0000" stroke-width="4.3"/>
<path d="M63.5 506.0L69.1 510.3L71.1 513.3L78.2 526.3L81.2 530.1L88.2 531.3L91.3 536.0L97.3 541.2L104.4 542.2L112.4 543.2L117.5 540.2L120.5 535.1L123.5 529.0L129.6 523.0L131.6 520.0L135.6 511.3L139.7 521.0L141.7 527.1L143.7 535.1L148.7 538.1L153.8 541.2L158.8 547.2L160.8 552.3L165.9 554.8L170.9 553.3L173.9 546.2L179.0 545.2L181.0 550.2L183.0 554.3L189.0 553.3L195.0 546.0L198.0 542.5L205.6 539.6L214.6 533.6L222.1 524.6L228.1 514.1L232.6 502.0L234.9 494.5L236.0 493.0L238.0 508.0L240.5 498.0L243.0 480.0L246.0 464.5L247.0 456.2L248.0 447.8L249.0 439.3L250.0 430.9L251.0 422.4L252.0 414.1L253.0 405.7L254.0 395.6L255.0 382.4L256.0 366.8L257.0 350.0L258.0 330.9L259.0 310.1L260.0 290.1L261.0 270.5L262.0 252.5L263.0 240.0L264.0 249.9L265.0 262.2L266.0 274.6L266.9 285.2L267.9 295.0L268.9 303.7L269.9 312.1L270.9 318.5L271.9 322.7L272.9 325.7L273.9 326.4L274.9 324.8L275.8 321.6L276.8 317.5L277.8 311.7L278.8 304.5L279.8 296.7L280.8 288.0L281.8 278.8L282.8 269.7L283.7 260.6L284.7 252.1L285.7 245.0L286.7 239.5L287.7 247.1L288.7 257.8L289.7 270.8L290.7 284.4L291.7 298.5L292.7 312.4L293.7 326.1L294.7 339.5L295.7 352.1L296.7 364.6L297.7 376.9L298.7 388.2L299.7 397.4L300.6 404.2L301.6 409.6L302.6 414.4L303.6 419.2L304.6 424.2L305.6 429.3L306.6 434.5L307.6 439.6L308.6 444.7L309.6 449.6L310.6 454.3L311.6 458.8L312.6 462.9L313.6 466.8L314.6 470.4L315.6 473.8L316.6 477.0L317.6 480.1L318.6 483.1L319.6 485.9L320.6 488.6L321.6 491.2L322.6 493.9L323.6 496.4L324.6 499.0L325.6 501.5L326.6 503.9L327.6 506.3L328.5 508.6L329.5 510.8L330.5 512.9L331.5 515.0L332.5 517.1L333.5 519.1L334.5 521.1L335.5 523.1L336.5 525.0L337.5 526.8L338.5 528.6L339.5 530.4L340.5 532.0L341.5 533.6L342.5 534.8L343.5 536.1L344.5 537.4L345.5 538.7L346.5 540.1L347.5 541.5L348.5 542.8L349.5 544.2L350.5 545.6L351.5 546.8L352.4 548.1L353.4 549.2L354.4 550.3L355.4 551.4L356.4 552.5L357.4 553.5L358.4 554.4L359.4 555.3L360.4 556.1L361.4 556.9L362.4 557.6L363.4 558.3L364.4 559.0L365.4 559.7L366.4 560.3L367.4 561.0L368.4 561.6L369.4 562.1L370.4 562.7L371.4 563.2L372.3 563.8L373.3 564.3L374.3 564.8L375.3 565.3L376.3 565.8L377.3 566.3L378.3 566.8L379.3 567.2L380.3 567.6L381.3 568.0L382.3 568.4L383.3 568.8L384.3 569.2L385.3 569.6L386.3 569.9L387.3 570.2L388.3 570.6L389.3 570.8L390.3 571.1L391.3 571.3L392.2 571.5L393.2 571.7L394.2 571.9L395.2 572.1L396.2 572.3L397.2 572.5L398.2 572.8L399.2 573.0L400.2 573.2L401.2 573.5L402.2 573.7L403.2 574.0L404.2 574.2L405.2 574.4L406.2 574.6L407.2 574.8L408.2 575.0L409.2 575.2L410.2 575.3L411.2 575.5L412.1 575.6L413.1 575.7L414.1 575.8L415.1 575.9L416.1 576.0L417.1 576.1L418.1 576.1L419.1 576.2L420.1 576.2L421.1 576.3L422.1 576.3L423.1 574.8L424.1 573.2L425.1 571.6L426.1 569.9L427.1 568.1L428.1 566.3L429.1 564.5L430.1 562.5L431.1 560.4L432.1 558.2L433.1 555.7L434.1 552.7L435.1 549.5L436.1 546.2L437.1 542.8L438.1 539.3L439.1 535.7L440.1 532.2L441.1 528.7L442.1 525.2L443.1 521.7L444.1 518.0L445.1 514.1L446.1 510.5L447.1 507.7L448.1 505.8L449.1 504.2L450.1 502.8L451.1 501.7L452.1 500.7L453.1 499.8L454.1 499.0L455.1 498.3L456.0 497.6L457.0 496.8L458.0 496.0L459.0 495.1L460.0 494.5L461.0 494.1L462.0 493.9L463.0 493.9L464.0 494.0L465.0 494.2L466.0 494.6L467.0 495.0L468.0 495.5L469.0 496.3L470.0 497.2L471.0 498.3L472.0 499.4L473.0 500.5L474.0 501.6L475.0 502.5L476.0 503.3L477.0 503.7L478.0 504.1L479.0 504.4L480.0 504.7L481.0 504.9L482.0 505.1L483.0 505.4L484.0 505.6L485.0 505.8L486.0 506.0L487.0 506.2L488.0 506.5L489.0 506.7L490.0 507.0L491.0 507.2L492.0 507.4L493.0 507.7L494.0 507.9L495.0 508.2L496.0 508.4L497.0 508.6L498.0 508.9L499.0 509.1L500.0 509.4L501.0 509.6L502.0 509.9L503.0 510.1L504.0 510.4L505.0 510.6L506.0 510.9L507.0 511.2L508.0 511.5L509.0 511.9L510.0 512.3L511.0 512.8L512.0 513.3L513.0 513.8L514.0 514.3L515.0 514.7L516.0 515.2L517.0 515.6L518.0 516.0L519.0 516.3L520.0 516.5L521.0 516.7L522.0 516.7L523.0 516.6L523.9 516.2L524.9 515.8L525.9 515.2L526.9 514.5L527.9 513.7L528.9 513.0L529.9 512.2L530.9 511.4L531.9 510.7L532.9 510.1L533.9 509.6L534.9 509.2L535.9 508.9L536.9 508.7L537.9 508.6L538.9 508.5L539.9 508.4L540.9 508.3L541.9 508.2L542.9 508.1L543.9 507.9L544.9 507.7L545.9 507.3L546.9 506.8L547.9 506.2L548.9 505.6L549.9 504.9L550.9 504.2L551.9 503.5L552.9 503.0L553.9 502.5L554.9 502.2L555.9 501.9L556.9 501.8L557.9 501.7L558.9 501.7L559.9 501.7L560.9 501.6L561.9 501.5L562.9 501.3L563.9 501.1L564.9 500.5L565.9 499.1L566.9 497.1L567.9 494.7L568.9 491.6L569.9 487.5L570.9 483.2L571.9 479.4L572.9 475.8L573.9 472.3L574.9 468.9L575.9 465.5L576.9 462.1L577.9 458.7L578.9 455.2L579.9 451.7L580.9 448.0L581.9 444.4L582.9 440.7L583.9 437.1L584.9 433.6L585.9 430.4L586.9 427.4L587.9 424.5L588.9 421.9L589.9 419.6L590.9 417.6L591.8 416.1L592.8 414.9L593.8 414.4L594.8 414.7L595.8 416.3L596.8 419.0L597.8 422.1L598.8 425.4L599.8 428.9L600.8 432.8L601.8 437.1L602.8 441.5L603.8 446.6L604.8 452.7L605.8 457.6L606.8 459.8L607.8 460.8L608.8 461.2L609.8 461.5L610.8 462.4L611.8 464.2L612.8 466.7L613.8 469.5L614.8 472.2L615.8 474.8L616.8 477.5L617.8 480.1L618.8 482.8L619.8 485.5L620.8 488.2L621.8 491.1L622.8 494.6L623.8 501.3L624.8 516.0L625.8 512.6L626.8 509.3L627.8 506.0L628.8 502.7L629.8 499.6L630.8 496.6L631.7 493.7L632.7 490.6L633.7 487.3L634.7 483.8L635.7 480.3L636.7 476.7L637.7 472.9L638.7 468.9L639.7 464.8L640.7 460.5L641.7 455.8L642.7 450.9L643.6 445.7L644.6 440.0L645.6 433.5L646.6 426.5L647.6 419.2L648.6 412.2L649.6 405.0L650.6 397.1L651.6 388.2L652.6 376.8L653.6 363.4L654.6 348.9L655.6 333.7L656.5 316.0L657.5 298.1L658.5 282.7L659.5 271.1L660.5 260.8L661.5 252.7L662.5 247.5L663.5 252.9L664.5 261.2L665.5 271.5L666.5 283.1L667.5 299.7L668.5 316.5L669.5 328.6L670.5 339.4L671.5 348.5L672.5 354.9L673.5 359.5L674.5 363.9L675.5 367.9L676.5 371.4L677.5 374.3L678.5 376.4L679.5 378.1L680.5 379.8L681.5 381.4L682.5 382.9L683.4 384.3L684.4 385.4L685.4 386.3L686.4 387.0L687.4 387.7L688.4 388.3L689.4 388.9L690.4 389.3L691.4 389.5L692.4 389.5L693.4 389.4L694.4 389.2L695.4 388.8L696.4 388.5L697.4 388.0L698.4 387.5L699.4 386.9L700.4 386.2L701.4 385.5L702.4 384.7L703.4 383.8L704.4 382.8L705.4 381.8L706.4 380.6L707.4 379.5L708.4 378.3L709.4 377.1L710.4 375.8L711.4 374.6L712.4 373.3L713.4 372.0L714.4 370.8L715.4 369.5L716.4 368.2L717.4 366.8L718.4 365.3L719.4 363.8L720.4 362.3L721.4 360.7L722.4 359.2L723.4 357.7L724.3 356.3L725.3 355.0L726.3 353.8L727.3 352.7L728.3 351.7L729.3 350.7L730.3 349.8L731.3 348.9L732.3 348.1L733.3 347.4L734.3 346.7L735.3 346.1L736.3 345.5L737.3 345.1L738.3 344.7L739.3 344.2L740.3 343.8L741.3 343.4L742.3 343.1L743.3 342.8L744.3 342.5L745.3 342.4L746.3 342.4L747.3 342.5L748.3 342.7L749.3 343.0L750.3 343.3L751.3 343.6L752.3 344.0L753.3 344.5L754.3 344.9L755.3 345.4L756.3 345.8L757.3 346.3L758.3 346.8L759.3 347.2L760.3 347.6L761.3 348.0L762.3 348.5L763.3 348.9L764.3 349.4L765.2 349.8L766.2 350.3L767.2 350.7L768.2 351.2L769.2 351.6L770.2 352.1L771.2 352.5L772.2 352.8L773.2 353.2L774.2 353.5L775.2 353.8L776.2 354.1L777.2 354.3L778.2 354.6L779.2 354.8L780.2 355.0L781.2 355.2L782.2 355.4L783.2 355.5L784.2 355.7L785.2 355.8L786.2 355.9L787.2 356.0L788.2 356.1L789.2 356.2L790.2 356.2L791.2 356.2L792.2 356.3L793.2 356.2L794.2 356.2L795.2 356.1L796.2 355.9L797.2 355.7L798.2 355.5L799.2 355.3L800.2 355.0L801.2 354.7L802.2 354.4L803.2 354.0L804.2 353.7L805.2 353.3L806.1 353.0L807.1 352.6L808.1 352.3L809.1 351.8L810.1 351.3L811.1 350.7L812.1 350.1L813.1 349.4L814.1 348.7L815.1 347.9L816.1 347.1L817.1 346.2L818.1 345.4L819.1 344.5L820.1 343.6L821.1 342.7L822.1 341.7L823.1 340.6L824.1 339.4L825.1 338.2L826.1 336.9L827.1 335.5L828.1 334.1L829.1 332.7L830.1 331.2L831.1 329.7L832.1 328.1L833.1 326.6L834.1 324.9L835.1 323.1L836.1 321.2L837.1 319.2L838.1 317.2L839.1 315.0L840.1 312.9L841.1 310.7L842.1 308.5L843.1 306.2L844.1 303.9L845.1 301.5L846.1 298.9L847.0 296.2L848.0 293.4L849.0 290.4L850.0 287.4L851.0 284.0L852.0 280.4L853.0 276.4L854.0 272.2L855.0 267.9L856.0 263.5L857.0 258.9L858.0 254.1L859.0 249.1L860.0 243.9L861.0 238.7L862.0 233.4L863.0 227.9L864.0 222.5L865.0 217.6L866.0 213.0L867.0 208.8L868.0 212.8L869.0 217.5L870.0 222.6L871.0 228.4L872.0 234.7L873.0 241.7L874.0 248.6L875.0 254.8L876.0 260.4L877.0 265.6L878.0 270.6L879.0 275.3L880.0 279.8L880.9 284.1L881.9 288.4L882.9 292.6L883.9 296.7L884.9 300.6L885.9 304.4L886.9 308.0L887.9 311.4L888.9 314.7L889.9 317.9L890.9 321.0L891.9 324.0L892.9 326.9L893.9 329.6L894.9 332.2L895.9 334.7L896.9 337.2L897.9 339.6L898.9 342.0L899.9 344.3L900.9 346.5L901.9 348.7L902.9 350.8L903.9 352.8L904.9 354.7L905.9 356.5L906.8 358.3L907.8 359.9L908.8 361.4L909.8 363.0L910.8 364.5L911.8 365.9L912.8 367.4L913.8 368.9L914.8 370.5L915.8 372.1L916.8 373.8L917.8 375.6L918.8 377.8L919.8 379.7L920.8 381.0L921.8 382.3L922.8 383.5L923.8 384.6L924.8 385.7L925.8 386.8L926.8 387.8L927.8 388.7L928.8 389.7L929.8 390.6L930.8 391.4L931.8 392.3L932.7 393.1L933.7 394.0L934.7 394.8L935.7 395.6L936.7 396.4L937.7 397.3L938.7 398.1L939.7 399.0L940.7 399.8L941.7 400.7L942.7 401.5L943.7 402.4L944.7 403.2L945.7 404.0L946.7 404.7L947.7 405.5L948.7 406.2L949.7 406.9L950.7 407.6L951.7 408.2L952.7 408.8L953.7 409.3L954.7 409.8L955.7 410.3L956.7 410.7L957.6 411.2L958.6 411.6L959.6 412.0L960.6 412.4L961.6 412.8L962.6 413.1L963.6 413.5L964.6 413.8L965.6 414.1L966.6 414.4L967.6 414.6L968.6 414.8L969.6 414.9L970.6 415.1L971.6 415.2L972.6 415.3L973.6 415.4L974.6 415.5L975.6 415.6L976.6 415.7L977.6 415.7L978.6 415.8L979.6 415.8L980.6 415.7L981.6 415.7L982.6 415.6L983.5 415.5L984.5 415.3L985.5 415.2L986.5 415.0L987.5 414.8L988.5 414.6L989.5 414.4L990.5 414.2L991.5 414.0L992.5 413.7L993.5 413.5L994.5 413.2L995.5 412.8L996.5 412.4L997.5 411.9L998.5 411.4L999.5 410.9L1000.5 410.3L1001.5 409.7L1002.5 409.1L1003.5 408.5L1004.5 407.8L1005.5 407.2L1006.5 406.5L1007.5 405.7L1008.5 404.8L1009.4 403.8L1010.4 402.8L1011.4 401.8L1012.4 400.7L1013.4 399.6L1014.4 398.4L1015.4 397.3L1016.4 396.2L1017.4 395.1L1018.4 394.0L1019.4 392.8L1020.4 391.5L1021.4 390.1L1022.4 388.7L1023.4 387.2L1024.4 385.6L1025.4 383.9L1026.4 382.1L1027.4 380.2L1028.4 378.0L1029.4 375.0L1030.4 371.4L1031.4 367.3L1032.4 362.8L1033.4 358.1L1034.4 353.2L1035.3 348.2L1036.3 342.4L1037.3 335.8L1038.3 328.4L1039.3 320.5L1040.3 312.1L1041.3 302.7L1042.3 292.4L1043.3 282.0L1044.3 271.8L1045.3 261.7L1046.3 251.8L1047.3 242.6L1048.3 234.0L1049.3 242.0L1050.3 252.5L1051.3 265.0L1052.3 279.7L1053.2 293.1L1054.2 305.6L1055.2 317.3L1056.2 327.5L1057.2 335.6L1058.2 342.9L1059.2 349.5L1060.2 356.0L1061.2 362.6L1062.1 369.8L1063.1 377.5L1064.1 384.7L1065.1 390.6L1066.1 395.3L1067.1 399.5L1068.1 403.2L1069.1 406.8L1070.1 410.2L1071.0 413.6L1072.0 417.1L1073.0 420.4L1074.0 423.8L1075.0 427.1L1076.0 430.3L1077.0 433.5L1078.0 436.6L1079.0 439.5L1079.9 442.4L1080.9 445.1L1081.9 447.9L1082.9 450.6L1083.9 453.3L1084.9 455.9L1085.9 458.6L1086.9 461.1L1087.9 463.7L1088.9 466.1L1089.8 468.6L1090.8 470.9L1091.8 473.2L1092.8 475.4L1093.8 477.5L1094.8 479.6L1095.8 481.5L1096.8 483.5L1097.8 485.5L1098.7 487.4L1099.7 489.3L1100.7 491.2L1101.7 493.1L1102.7 494.9L1103.7 496.7L1104.7 498.4L1105.7 500.1L1106.7 501.7L1107.6 503.3L1108.6 504.8L1109.6 506.2L1110.6 507.6L1111.6 508.9L1112.6 510.1L1113.6 511.3L1114.6 512.4L1115.6 513.5L1116.5 514.6L1117.5 515.5L1118.5 516.3L1119.5 517.0L1120.5 517.5L1121.0 505.0L1127.0 498.0L1129.0 483.0L1132.0 478.0L1137.3 470.1L1140.3 473.1L1147.4 477.7L1154.4 482.2L1160.5 486.3L1164.5 473.1L1169.6 473.1L1175.6 475.7L1190.7 480.2L1205.8 483.2L1221.0 484.7L1235.1 485.7L1238.1 479.2L1240.0 476.0L1249.1 453.1L1258.3 428.0L1264.0 414.3L1269.7 430.3L1278.9 450.9L1290.3 476.0L1297.1 477.1L1299.4 485.1L1331.4 484.0L1354.3 480.6L1383.0 477.1" stroke="#9a3000" stroke-width="4.3" stroke-dasharray="4.7 2.95"/>
<path d="M209.2 488.8h0M210.5 488.3h0M211.8 486.0h0M213.2 485.5h0M214.5 483.2h0M215.8 482.7h0M217.1 480.3h0M218.5 479.0h0M219.8 475.9h0M221.1 474.6h0M222.4 471.5h0M223.8 469.5h0M225.1 465.2h0M226.4 462.6h0M227.7 458.3h0M229.0 455.5h0M230.4 450.8h0M231.7 447.9h0M233.0 443.5h0M234.3 440.9h0M235.7 451.4h0M237.0 461.0h0M238.3 467.5h0M239.6 480.0h0M241.0 480.4h0M242.3 478.2h0M243.6 474.1h0M244.9 469.5h0M246.2 462.0h0M247.6 451.8h0M248.9 439.8h0M250.2 429.5h0M251.5 417.5h0M252.9 407.4h0M254.2 392.7h0M255.5 375.0h0M256.8 352.4h0M258.2 328.3h0M259.5 300.2h0M260.8 274.9h0M262.1 250.5h0M263.4 244.9h0M264.8 259.1h0M266.1 276.4h0M267.4 289.3h0M268.7 302.5h0M270.1 312.6h0M271.4 321.0h0M272.7 324.7h0M274.0 326.6h0M275.4 322.7h0M276.7 318.6h0M278.0 309.9h0M279.3 300.8h0M280.6 288.7h0M282.0 277.4h0M283.3 264.3h0M284.6 253.5h0M285.9 243.3h0M287.3 244.2h0M288.6 256.1h0M289.9 274.2h0M291.2 291.6h0M292.5 311.1h0M293.9 328.3h0M295.2 346.5h0M296.5 362.3h0M297.8 379.4h0M299.2 392.4h0M300.5 403.5h0M301.8 409.9h0M303.1 417.2h0M304.5 422.9h0M305.8 430.5h0M307.1 436.5h0M308.4 444.1h0M309.7 449.8h0M311.1 456.8h0M312.4 461.6h0M313.7 467.6h0M315.0 471.5h0M316.4 476.8h0M317.7 480.0h0M319.0 484.7h0M320.3 487.4h0M321.7 491.9h0M323.0 494.5h0M324.3 498.8h0M325.6 501.2h0M326.9 505.3h0M328.3 507.5h0M329.6 511.3h0M330.9 513.2h0M332.2 516.9h0M333.6 518.7h0M334.9 522.3h0M336.2 523.9h0M337.5 527.3h0M338.9 528.8h0M340.2 531.9h0M341.5 533.1h0M519.7 475.9h0M521.0 476.7h0M522.3 475.8h0M523.6 476.7h0M525.0 475.7h0M526.3 476.6h0M527.6 475.7h0M528.9 476.5h0M530.2 475.6h0M531.5 476.5h0M532.9 475.5h0M534.2 476.4h0M535.5 475.5h0M536.8 476.3h0M538.1 475.4h0M539.4 476.3h0M540.7 475.4h0M542.1 476.0h0M543.4 476.6h0M544.7 481.5h0M546.0 486.6h0M547.3 492.5h0M548.6 496.3h0M550.0 501.4h0M551.3 504.4h0M552.6 508.9h0M553.9 511.3h0M555.2 515.2h0M556.5 517.1h0M557.8 520.6h0M559.2 522.4h0M560.5 526.2h0M561.8 528.4h0M563.1 532.7h0M564.4 535.1h0M565.7 538.9h0M567.1 540.5h0M568.4 543.7h0M569.7 545.1h0M571.0 548.1h0M572.3 549.2h0M573.6 552.0h0M574.9 552.8h0M576.3 555.2h0M577.6 555.7h0M578.9 558.0h0M580.2 558.4h0M581.5 560.5h0M582.8 560.9h0M584.1 562.9h0M585.5 563.2h0M586.8 565.1h0M588.1 565.2h0M589.4 567.0h0M590.7 566.9h0M592.0 568.5h0M593.4 568.4h0M594.7 570.0h0M596.0 569.8h0M597.3 571.3h0M598.6 571.0h0M599.9 572.4h0M601.2 572.0h0M602.6 573.4h0M603.9 572.8h0M605.2 574.0h0M606.5 573.2h0M607.8 574.1h0M609.1 573.1h0M610.5 573.9h0M611.8 572.8h0M613.1 573.3h0M614.4 572.0h0M615.3 566.5h0M616.6 567.5h0M617.9 566.7h0M619.3 567.7h0M620.6 566.9h0M621.9 567.8h0M623.2 567.0h0M624.6 568.0h0M625.9 567.2h0M627.2 568.2h0M628.5 567.3h0M629.8 568.3h0M631.2 567.5h0M632.5 568.5h0M633.8 567.7h0M635.1 568.6h0M636.4 567.8h0M637.8 568.8h0M639.1 562.1h0M640.4 551.9h0M641.7 542.5h0M643.1 522.5h0M644.4 510.7h0M645.7 502.5h0M647.0 489.5h0M648.3 472.4h0M649.7 454.5h0M651.0 444.8h0M652.3 431.8h0M653.6 415.2h0M654.9 387.6h0M656.3 359.5h0M657.6 342.9h0M658.9 328.1h0M660.2 311.5h0M661.6 289.8h0M662.9 273.9h0M664.2 286.6h0M665.5 316.1h0M666.8 351.1h0M668.2 376.5h0M669.5 391.3h0M670.8 397.1h0M672.1 403.7h0M673.4 408.3h0M674.8 414.2h0M676.1 417.9h0M677.4 422.7h0M678.7 425.5h0M680.1 429.9h0M681.4 432.5h0M682.7 436.7h0M684.0 438.8h0M685.3 442.6h0M686.7 444.4h0M688.0 447.9h0M689.3 449.6h0M690.6 453.0h0M692.0 454.5h0M693.3 457.7h0M694.6 459.0h0M695.9 461.9h0M697.2 462.8h0M698.6 465.5h0M699.9 466.3h0M701.2 468.9h0M702.5 469.6h0M703.8 472.0h0M705.2 472.6h0M706.5 474.9h0M707.8 475.3h0M709.1 477.4h0M710.5 477.6h0M711.8 479.6h0M713.1 479.8h0M714.4 481.8h0M715.7 481.9h0M717.1 483.8h0M718.4 483.8h0M719.7 485.6h0M721.0 485.6h0M722.3 487.3h0M723.7 487.1h0M725.0 488.7h0M726.3 488.5h0M727.6 490.1h0M729.0 489.8h0M730.3 491.4h0M731.6 491.1h0M732.9 492.6h0M734.2 492.3h0M735.6 493.8h0M736.9 493.4h0M738.2 494.8h0M739.5 494.4h0M740.9 495.7h0M742.2 495.2h0M743.5 496.5h0M744.8 495.9h0M746.1 497.2h0M747.5 496.6h0M748.8 497.9h0M750.1 497.3h0M751.4 498.5h0M752.7 498.0h0M754.1 499.2h0M755.4 498.5h0M756.7 499.7h0M758.0 499.0h0M759.4 500.2h0M760.7 499.5h0M762.0 500.6h0M763.3 500.0h0M764.6 501.1h0M766.0 500.4h0M767.3 501.5h0M768.6 500.8h0M769.9 501.9h0M771.2 501.2h0M772.6 502.3h0M773.9 501.6h0M775.2 502.6h0M776.5 501.8h0M777.9 502.9h0M779.2 502.1h0M780.5 503.1h0M781.8 502.3h0M783.1 503.4h0M784.5 502.6h0M785.8 503.6h0M787.1 502.8h0M788.4 503.8h0M789.7 502.9h0M791.1 503.9h0M792.4 503.0h0M793.7 504.0h0M795.0 503.1h0M796.4 504.0h0M797.7 503.1h0M799.0 504.0h0M800.3 503.1h0M801.6 504.0h0M803.0 503.1h0M804.3 503.9h0M805.6 503.0h0M806.9 503.9h0M808.3 502.9h0M809.6 503.8h0M810.9 502.8h0M812.2 503.6h0M813.5 502.7h0M814.9 503.5h0M816.2 502.5h0M817.5 503.3h0M818.8 502.2h0M820.1 503.0h0M821.5 502.0h0M822.8 502.7h0M824.1 501.7h0M825.4 502.4h0M826.8 501.4h0M828.1 502.1h0M829.4 501.1h0M830.7 501.8h0M832.0 500.7h0M833.4 501.4h0M834.7 500.3h0M836.0 500.9h0M837.3 499.8h0M838.6 500.5h0M840.0 499.3h0M841.3 500.0h0M842.6 498.9h0M843.9 499.5h0M845.3 498.4h0M846.6 499.0h0M847.9 497.9h0M849.2 498.5h0M850.5 497.4h0M851.9 498.0h0M853.2 496.8h0M854.5 497.4h0M855.8 496.2h0M857.1 496.8h0M858.5 495.6h0M859.8 496.2h0M861.1 495.0h0M862.4 495.6h0M863.8 494.3h0M865.1 494.9h0M866.4 493.6h0M867.7 494.1h0M869.0 492.8h0M870.4 493.3h0M871.7 491.9h0M873.0 492.4h0M874.3 491.1h0M875.7 491.5h0M877.0 490.1h0M878.3 490.6h0M879.6 489.2h0M880.9 489.6h0M882.3 488.2h0M883.6 488.5h0M884.9 487.1h0M886.2 487.4h0M887.5 485.9h0M888.9 486.2h0M890.2 484.7h0M891.5 485.0h0M892.8 483.4h0M894.2 483.7h0M895.5 482.2h0M896.8 482.4h0M898.1 480.8h0M899.4 481.1h0M900.8 479.4h0M902.1 479.6h0M903.4 478.0h0M904.7 478.1h0M906.0 476.4h0M907.4 476.5h0M908.7 474.8h0M910.0 474.8h0M911.3 473.0h0M912.7 473.0h0M914.0 471.1h0M915.3 471.0h0M916.6 469.0h0M917.9 468.8h0M919.3 466.7h0M920.6 466.4h0M921.9 464.3h0M923.2 464.0h0M924.5 461.8h0M925.9 461.4h0M927.2 459.2h0M928.5 458.6h0M929.8 456.3h0M931.2 455.6h0M932.5 453.2h0M933.8 452.5h0M935.1 449.9h0M936.4 449.0h0M937.8 446.3h0M939.1 445.2h0M940.4 442.2h0M941.7 441.0h0M943.1 437.9h0M944.4 436.4h0M945.7 433.0h0M947.0 431.2h0M948.3 427.6h0M949.7 425.6h0M951.0 421.9h0M952.3 419.8h0M953.6 415.9h0M954.9 413.6h0M956.3 409.5h0M957.6 407.0h0M958.9 402.6h0M960.2 399.8h0M961.6 395.0h0M962.9 391.8h0M964.2 386.6h0M965.5 383.0h0M966.8 377.2h0M968.2 372.9h0M969.5 367.3h0M970.8 363.2h0M972.1 356.4h0M973.4 348.8h0M974.8 336.5h0M976.1 326.7h0M977.4 315.2h0M978.7 305.3h0M980.1 294.3h0M981.4 286.6h0M982.7 278.6h0M984.0 273.8h0M985.3 273.6h0M986.7 279.1h0M988.0 283.5h0M989.3 291.5h0M990.6 300.0h0M992.0 310.4h0M993.3 318.9h0M994.6 328.2h0M995.9 334.0h0M997.2 340.8h0M998.6 345.0h0M999.9 350.1h0M1001.2 352.9h0M1002.5 357.5h0M1003.8 360.0h0M1005.2 364.0h0M1006.5 365.6h0M1007.8 368.3h0M1009.1 368.9h0M1010.5 371.3h0M1011.8 371.7h0M1013.1 373.6h0M1014.4 373.5h0M1015.7 374.9h0M1017.1 374.0h0M1018.4 374.4h0M1019.7 372.7h0M1021.0 372.4h0M1022.3 370.2h0M1023.7 369.5h0M1025.0 367.0h0M1026.3 365.9h0M1027.6 362.0h0M1029.0 359.2h0M1030.3 354.3h0M1031.6 350.9h0M1032.9 345.6h0M1034.2 341.3h0M1035.6 334.3h0M1036.9 328.4h0M1038.2 320.2h0M1039.5 312.8h0M1040.8 301.6h0M1042.2 290.9h0M1043.5 277.2h0M1044.8 262.6h0M1046.1 242.9h0M1047.5 223.7h0M1048.8 216.9h0M1050.1 237.0h0M1051.4 257.2h0M1052.7 279.4h0M1054.1 299.9h0M1055.4 320.3h0M1056.7 333.4h0M1058.0 344.6h0M1059.4 352.4h0M1060.7 361.7h0M1062.0 369.8h0M1063.3 380.1h0M1064.6 387.4h0M1066.0 395.0h0M1067.3 399.6h0M1068.6 405.5h0M1069.9 409.3h0M1071.2 414.8h0M1072.6 418.4h0M1073.9 423.8h0M1075.2 427.3h0M1076.5 432.5h0M1077.9 435.7h0M1079.2 440.6h0M1080.5 443.4h0M1081.8 448.0h0M1083.1 450.7h0M1084.5 455.2h0M1085.8 457.9h0M1087.1 462.2h0M1088.4 464.7h0M1089.7 468.8h0M1091.1 471.0h0M1092.4 474.9h0M1093.7 476.9h0M1095.0 480.5h0M1096.4 482.2h0M1097.7 485.7h0M1099.0 487.2h0M1100.3 490.6h0M1101.6 492.1h0M1103.0 495.3h0M1104.3 496.6h0M1105.6 499.8h0M1106.9 501.0h0M1108.2 504.0h0M1109.6 505.2h0M1110.9 508.1h0M1112.2 509.1h0M1113.5 511.9h0M1114.9 512.9h0M1116.2 515.4h0M1117.5 516.0h0M1154.4 475.8h0M1155.7 477.8h0M1157.0 478.1h0M1158.4 480.1h0M1159.7 480.2h0M1161.0 482.1h0M1162.3 482.1h0M1163.6 483.8h0M1164.9 483.5h0M1166.3 484.9h0M1167.6 484.4h0M1168.9 485.7h0M1170.2 485.2h0M1171.5 486.4h0M1172.8 485.9h0M1174.2 487.1h0M1175.5 486.5h0M1176.8 487.7h0M1178.1 487.2h0M1179.4 488.4h0M1180.8 487.9h0M1182.1 489.2h0M1183.4 488.7h0M1184.7 490.1h0M1186.0 489.6h0M1187.3 491.0h0M1188.7 490.5h0M1190.0 491.8h0M1191.3 491.3h0M1192.6 492.6h0M1193.9 492.0h0M1195.3 493.2h0M1196.6 492.5h0M1197.9 493.6h0M1199.2 492.8h0M1200.5 493.9h0M1201.8 493.2h0M1203.2 494.2h0M1204.5 493.4h0M1205.8 494.4h0M1207.1 493.6h0M1208.4 494.6h0M1209.7 493.8h0M1211.1 494.8h0M1212.4 493.9h0M1213.7 494.9h0M1215.0 494.0h0M1216.3 495.0h0M1217.7 494.1h0M1219.0 495.1h0M1220.3 494.3h0M1221.6 495.2h0M1222.9 494.4h0M1224.2 495.3h0M1225.6 494.5h0M1226.9 495.4h0M1228.2 494.6h0M1229.5 495.5h0M1230.8 494.6h0M1232.1 495.6h0M1233.5 494.7h0M1234.8 495.7h0M1236.1 494.8h0M1237.4 495.7h0M1238.7 494.8h0M1240.1 495.8h0M1241.4 494.9h0M1242.7 495.8h0M1244.0 494.9h0M1245.3 495.8h0M1246.6 494.9h0M1248.0 495.8h0M1249.3 494.9h0M1250.6 495.9h0M1251.9 495.0h0M1253.2 495.9h0M1254.6 495.0h0M1255.9 495.9h0M1257.2 495.0h0M1258.5 495.9h0M1259.8 495.0h0M1261.1 495.9h0M1262.5 495.0h0M1263.8 495.8h0M1265.1 494.9h0M1266.4 495.8h0M1267.7 494.9h0M1269.0 495.8h0M1270.4 494.9h0M1271.7 495.7h0M1273.0 494.8h0M1274.3 495.7h0M1275.6 494.8h0M1277.0 495.6h0M1278.3 494.7h0M1279.6 495.6h0M1280.9 494.6h0M1282.2 495.5h0M1283.5 494.6h0M1284.9 495.4h0M1286.2 494.5h0M1287.5 495.4h0M1288.8 494.4h0M1290.1 495.3h0M1291.4 494.4h0M1292.8 495.2h0M1294.1 494.3h0M1295.4 495.1h0M1296.7 494.2h0M1298.0 495.1h0M1299.4 494.1h0M1300.7 495.0h0M1302.0 494.1h0M1303.3 494.9h0M1304.6 494.0h0M1305.9 494.8h0M1307.3 493.9h0M1308.6 494.8h0M1309.9 493.8h0M1311.2 494.7h0M1312.5 493.7h0M1313.9 494.6h0M1315.2 493.6h0M1316.5 494.5h0M1317.8 493.5h0M1319.1 494.4h0M1320.4 493.4h0M1321.8 494.2h0M1323.1 493.3h0M1324.4 494.1h0M1325.7 493.2h0M1327.0 494.0h0M1328.3 493.0h0M1329.7 493.9h0M1331.0 492.9h0M1332.3 493.8h0M1334.5 482.8h0M1335.8 483.6h0M1337.1 482.6h0M1338.4 483.4h0M1339.7 482.4h0M1341.0 483.3h0M1342.3 482.3h0M1343.6 483.1h0M1344.9 482.1h0M1346.2 482.9h0M1347.5 482.0h0M1348.8 482.8h0M1350.1 481.8h0M1351.4 482.6h0M1352.7 481.6h0M1354.0 482.5h0M1355.3 481.5h0M1356.6 482.2h0M1357.9 481.2h0M1359.2 482.0h0M1360.6 481.0h0M1361.9 481.8h0M1363.2 480.8h0M1364.5 481.6h0M1365.8 480.5h0M1367.1 481.3h0M1368.4 480.3h0M1369.7 481.1h0M1371.0 480.1h0M1372.3 480.9h0M1373.6 479.9h0M1374.9 480.6h0M1376.2 479.6h0M1377.5 480.4h0M1378.8 479.4h0M1380.1 480.2h0M1381.4 479.2h0M1382.7 480.0h0M1384.0 478.9h0" stroke="#00ff00" stroke-width="8.2" stroke-linecap="round"/>
<path d="M63.5 509.0h0M64.5 509.5h0M63.5 517.5h0M64.8 517.9h0M66.1 518.3h0M67.4 518.6h0M68.6 519.0h0M69.9 519.4h0M71.2 519.8h0M72.5 520.1h0M73.8 520.5h0M75.1 520.9h0M76.3 521.3h0M77.6 521.6h0M78.9 522.0h0M80.2 522.4h0M80.0 514.5h0M81.3 514.7h0M82.5 515.0h0M83.8 515.2h0M85.1 515.4h0M86.4 515.6h0M87.6 515.9h0M88.9 516.1h0M90.2 516.3h0M91.5 516.5h0M92.7 516.8h0M94.0 517.0h0M90.3 498.5h0M91.6 498.7h0M92.9 498.8h0M94.2 499.0h0M95.5 499.2h0M96.8 499.4h0M98.1 499.5h0M99.4 499.7h0M100.7 499.9h0M102.0 500.0h0M103.3 500.2h0M104.6 500.4h0M105.9 500.5h0M107.2 500.7h0M108.5 500.9h0M109.8 501.1h0M111.1 501.2h0M112.4 501.4h0M113.8 501.6h0M115.1 501.7h0M116.4 501.9h0M117.7 502.1h0M119.0 502.3h0M120.3 502.4h0M121.6 502.6h0M122.9 502.8h0M124.2 502.9h0M125.5 503.1h0M126.8 503.3h0M128.1 503.4h0M129.4 503.6h0M130.7 503.8h0M132.0 504.0h0M133.3 504.1h0M134.6 504.3h0M130.6 495.2h0M131.9 495.3h0M133.2 495.4h0M134.5 495.5h0M135.8 495.6h0M137.1 495.7h0M138.4 495.8h0M139.7 495.9h0M141.0 496.0h0M142.3 496.1h0M143.6 496.2h0M144.8 496.2h0M146.1 496.3h0M147.4 496.4h0M148.7 496.5h0M150.0 496.6h0M151.3 496.7h0M152.6 496.8h0M153.9 496.9h0M155.2 497.0h0M156.5 497.1h0M157.8 497.2h0M155.8 486.1h0M157.1 486.3h0M158.4 486.5h0M159.7 486.8h0M161.0 487.0h0M162.3 487.2h0M163.6 487.4h0M164.9 487.6h0M166.1 487.9h0M167.4 488.1h0M168.7 488.3h0M170.0 488.5h0M171.3 488.8h0M172.6 489.0h0M173.9 489.2h0M170.9 477.1h0M172.2 477.2h0M173.5 477.2h0M174.8 477.3h0M176.1 477.4h0M177.4 477.5h0M178.6 477.5h0M179.9 477.6h0M181.2 477.7h0M182.5 477.7h0M183.8 477.8h0M185.1 477.9h0M186.4 478.0h0M187.7 478.0h0M189.0 478.1h0M190.3 478.2h0M191.5 478.2h0M192.8 478.3h0M194.1 478.4h0M195.4 478.5h0M196.7 478.5h0M198.0 478.6h0M187.0 487.2h0M188.3 487.1h0M189.6 486.9h0M190.9 486.8h0M192.2 486.6h0M193.5 486.4h0M194.8 486.3h0M196.1 486.1h0M197.4 486.0h0M198.7 485.8h0M200.0 485.7h0M200.2 502.3h0M201.5 501.6h0M202.9 500.8h0M204.2 500.1h0M205.6 499.3h0M206.9 498.6h0M208.2 497.8h0M209.6 497.1h0M210.9 496.3h0M212.3 495.6h0M213.6 494.8h0M215.0 494.1h0M216.3 493.3h0M346.0 517.0h0M347.5 520.7h0M349.0 524.3h0M350.5 528.0h0M350.0 508.0h0M351.4 510.5h0M352.9 513.0h0M354.3 515.5h0M355.8 518.0h0M357.2 520.5h0M358.0 500.0h0M359.4 501.9h0M360.7 503.8h0M362.1 505.8h0M363.5 507.7h0M364.8 509.6h0M366.2 511.5h0M364.5 491.5h0M365.8 492.1h0M367.2 492.8h0M368.5 493.4h0M369.8 494.0h0M371.1 494.7h0M372.5 495.3h0M373.8 495.9h0M375.1 496.6h0M376.5 497.2h0M377.8 497.8h0M379.1 498.5h0M380.4 499.1h0M381.8 499.7h0M383.1 500.4h0M384.4 501.0h0M385.8 501.6h0M387.1 502.3h0M388.4 502.9h0M389.7 503.5h0M391.1 504.2h0M392.4 504.8h0M389.5 513.6h0M390.8 513.3h0M392.1 513.1h0M393.4 512.8h0M394.7 512.6h0M396.0 512.3h0M397.3 512.0h0M398.6 511.8h0M399.9 511.5h0M401.2 511.3h0M402.5 511.0h0M403.8 510.8h0M405.1 510.5h0M406.4 510.2h0M407.7 510.0h0M409.0 509.7h0M410.3 509.5h0M411.6 509.2h0M405.7 518.0h0M407.0 518.1h0M408.3 518.1h0M409.6 518.2h0M410.9 518.2h0M412.2 518.3h0M413.5 518.4h0M414.8 518.4h0M416.1 518.5h0M417.4 518.5h0M418.7 518.6h0M420.0 518.7h0M421.3 518.7h0M422.5 518.8h0M423.8 518.8h0M425.1 518.9h0M426.4 519.0h0M427.7 519.0h0M429.0 519.1h0M430.3 519.1h0M431.6 519.2h0M432.9 519.3h0M434.2 519.3h0M435.5 519.4h0M436.8 519.4h0M438.1 519.5h0M433.7 510.7h0M435.0 510.6h0M436.3 510.5h0M437.6 510.5h0M439.0 510.4h0M440.3 510.3h0M441.6 510.2h0M442.9 510.1h0M444.2 510.1h0M445.5 510.0h0M446.9 509.9h0M448.2 509.8h0M449.5 509.8h0M450.8 509.7h0M452.1 509.6h0M453.4 509.5h0M454.8 509.4h0M456.1 509.4h0M457.4 509.3h0M458.7 509.2h0M457.2 501.9h0M458.5 501.8h0M459.8 501.8h0M461.2 501.7h0M462.5 501.7h0M463.8 501.6h0M465.1 501.5h0M466.4 501.5h0M467.8 501.4h0M469.1 501.4h0M470.4 501.3h0M471.7 501.2h0M473.0 501.2h0M474.4 501.1h0M475.7 501.1h0M477.0 501.0h0M476.9 492.8h0M478.2 492.8h0M479.5 492.7h0M480.7 492.7h0M482.0 492.6h0M483.3 492.6h0M484.6 492.6h0M485.9 492.5h0M487.1 492.5h0M488.4 492.5h0M489.7 492.4h0M491.0 492.4h0M492.3 492.3h0M493.6 492.3h0M494.8 492.3h0M496.1 492.2h0M497.4 492.2h0M498.3 485.3h0M499.6 485.3h0M500.9 485.2h0M502.2 485.2h0M503.5 485.1h0M504.8 485.1h0M506.1 485.1h0M507.4 485.0h0M508.7 485.0h0M510.0 484.9h0M511.3 484.9h0M512.6 484.9h0M513.9 484.8h0M515.2 484.8h0M516.5 484.7h0M517.8 484.7h0M1116.1 493.3h0M1117.5 495.1h0M1118.9 496.9h0M1120.4 498.8h0M1121.8 500.6h0M1123.2 502.4h0M1123.2 484.2h0M1124.5 485.6h0M1125.8 487.0h0M1127.1 488.4h0M1128.5 489.8h0M1129.8 491.2h0M1131.1 492.6h0M1132.4 494.0h0M1133.7 495.4h0M1135.0 496.8h0M1136.4 498.2h0M1137.7 499.6h0M1139.0 501.0h0M1140.3 502.4h0M1141.3 484.2h0M1142.6 485.2h0M1143.9 486.2h0M1145.2 487.2h0M1146.5 488.2h0M1147.9 489.2h0M1149.2 490.3h0M1150.5 491.3h0M1151.8 492.3h0M1153.1 493.3h0M1154.4 494.3h0" stroke="#00ff00" stroke-width="8.0" stroke-linecap="round"/>
<path d="M63.5 501.5L75.1 503.8L75.6 510.3L80.2 513.3L91.3 514.4L92.3 508.3L97.3 504.3L99.3 501.3L102.4 501.3L105.4 509.3L109.4 509.3L109.9 493.2L129.6 495.2L132.6 487.1L154.8 488.1L157.3 479.6L180.0 479.7L199.7 478.1L201.2 488.2L204.2 493.8L209.2 489.2L217.3 481.2L223.3 471.1L229.0 458.0L232.4 472.1L234.4 485.2L237.5 499.3L241.5 490.2L243.5 475.1L246.0 464.5L247.0 456.2L248.0 447.8L249.0 439.3L250.0 430.9L251.0 422.4L252.0 414.1L253.0 405.7L254.0 395.6L255.0 382.4L256.0 366.8L257.0 350.0L258.0 330.9L259.0 310.1L260.0 290.1L261.0 270.5L262.0 252.5L263.0 240.0L264.0 249.9L265.0 262.2L266.0 274.6L266.9 285.2L267.9 295.0L268.9 303.7L269.9 312.1L270.9 318.5L271.9 322.7L272.9 325.7L273.9 326.4L274.9 324.8L275.8 321.6L276.8 317.5L277.8 311.7L278.8 304.5L279.8 296.7L280.8 288.0L281.8 278.8L282.8 269.7L283.7 260.6L284.7 252.1L285.7 245.0L286.7 239.5L287.7 247.1L288.7 257.8L289.7 270.8L290.7 284.4L291.7 298.5L292.7 312.4L293.7 326.1L294.7 339.5L295.7 352.1L296.7 364.6L297.7 376.9L298.7 388.2L299.7 397.4L300.6 404.2L301.6 409.6L302.6 414.4L303.6 419.2L304.6 424.2L305.6 429.3L306.6 434.5L307.6 439.6L308.6 444.7L309.6 449.6L310.6 454.3L311.6 458.8L312.6 462.9L313.6 466.8L314.6 470.4L315.6 473.8L316.6 477.0L317.6 480.1L318.6 483.1L319.6 485.9L320.6 488.6L321.6 491.2L322.6 493.9L323.6 496.4L324.6 499.0L325.6 501.5L326.6 503.9L327.6 506.3L328.5 508.6L329.5 510.8L330.5 512.9L331.5 515.0L332.5 517.1L333.5 519.1L334.5 521.1L335.5 523.1L336.5 525.0L337.5 526.8L338.5 528.6L339.5 530.4L340.5 532.0L341.5 533.6L341.5 532.0L342.4 510.7L346.8 503.3L349.7 496.0L353.0 498.0L357.1 486.4L360.0 490.0L368.9 496.0L377.7 499.6L379.9 496.7L380.7 485.7L385.1 486.4L399.8 491.5L403.5 490.8L404.2 483.4L414.5 484.2L416.7 493.0L436.6 493.8L439.6 501.9L454.3 503.3L457.2 510.7L476.9 510.2L478.8 502.8L495.5 501.8L498.3 495.3L516.0 494.4L517.8 487.0L547.6 486.0L550.4 479.0L567.9 475.8L583.7 471.1L586.5 460.0L590.2 454.4L593.9 447.0L603.2 435.8L611.6 422.8L612.5 435.8L613.5 454.4L616.3 456.3L618.1 469.3L621.8 473.0L623.7 482.3L627.4 486.0L629.3 497.2L630.3 497.0L631.3 496.2L632.2 494.9L633.2 493.1L634.2 490.7L635.2 487.8L636.1 484.4L637.1 480.7L638.1 476.7L639.1 472.8L640.0 468.8L641.0 465.0L642.0 460.9L643.0 456.8L643.9 452.5L644.9 448.1L645.9 443.7L646.9 439.1L647.9 434.4L648.8 429.5L649.8 424.1L650.8 418.1L651.8 410.8L652.7 402.4L653.7 392.7L654.7 379.8L655.7 366.2L656.6 354.5L657.6 343.4L658.6 332.5L659.6 320.9L660.5 307.9L661.5 291.5L662.5 272.5L662.7 272.5L663.7 291.7L664.7 308.4L665.7 322.7L666.7 335.4L667.7 347.0L668.7 357.9L669.7 367.5L670.7 376.3L671.7 384.7L672.7 392.4L673.7 399.1L674.7 405.2L675.7 410.8L676.7 415.5L677.7 418.9L678.7 422.1L679.7 425.0L680.7 427.7L681.7 430.2L682.7 432.4L683.6 434.4L684.6 436.3L685.6 438.1L686.6 439.9L687.6 441.7L688.6 443.4L689.6 445.0L690.6 446.4L691.6 447.7L692.6 448.8L693.6 449.9L694.6 450.9L695.6 451.9L696.6 452.9L697.6 453.9L698.6 454.8L699.6 455.6L700.6 456.4L701.6 457.1L702.6 457.7L703.6 458.3L704.6 458.9L705.6 459.4L706.6 460.0L707.6 460.6L708.6 461.1L709.6 461.5L710.6 461.9L711.6 462.2L712.6 462.5L713.6 462.6L714.6 462.7L715.6 462.7L716.6 462.8L717.6 462.8L718.6 462.8L719.6 462.9L720.6 462.9L721.6 462.9L722.6 462.9L723.6 462.8L724.5 462.8L725.5 462.7L726.5 462.6L727.5 462.6L728.5 462.5L729.5 462.4L730.5 462.3L731.5 462.2L732.5 462.1L733.5 462.1L734.5 462.1L735.5 462.3L736.5 462.4L737.5 462.7L738.5 462.9L739.5 463.3L740.5 463.6L741.5 463.9L742.5 464.4L743.5 464.9L744.5 465.5L745.5 466.2L746.5 467.0L747.5 467.7L748.5 468.5L749.5 469.2L750.5 469.9L751.5 470.7L752.5 471.4L753.5 472.2L754.5 472.9L755.5 473.7L756.5 474.5L757.5 475.2L758.5 476.0L759.5 476.8L760.5 477.5L761.5 478.3L762.5 479.0L763.5 479.7L764.4 480.4L765.4 481.1L766.4 481.8L767.4 482.6L768.4 483.3L769.4 484.0L770.4 484.6L771.4 485.3L772.4 486.0L773.4 486.6L774.4 487.2L775.4 487.7L776.4 488.3L777.4 488.8L778.4 489.3L779.4 489.9L780.4 490.3L781.4 490.8L782.4 491.3L783.4 491.7L784.4 492.2L785.4 492.6L786.4 493.0L787.4 493.4L788.4 493.8L789.4 494.2L790.4 494.6L791.4 494.9L792.4 495.3L793.4 495.7L794.4 496.0L795.4 496.4L796.4 496.7L797.4 497.1L798.4 497.4L799.4 497.7L800.4 498.0L801.4 498.4L802.4 498.7L803.4 499.0L804.4 499.2L805.3 499.5L806.3 499.8L807.3 500.0L808.3 500.3L809.3 500.6L810.3 500.8L811.3 501.1L812.3 501.3L813.3 501.6L814.3 501.8L815.3 502.1L816.3 502.3L817.3 502.5L818.3 502.7L819.3 502.9L820.3 503.1L821.3 503.3L822.3 503.4L823.3 503.6L824.3 503.7L825.3 503.8L826.3 504.0L827.3 504.1L828.3 504.2L829.3 504.4L830.3 504.5L831.3 504.6L832.3 504.7L833.3 504.8L834.3 504.9L835.3 505.0L836.3 505.1L837.3 505.2L838.3 505.3L839.3 505.4L840.3 505.4L841.3 505.5L842.3 505.5L843.3 505.6L844.3 505.6L845.3 505.7L846.2 505.8L847.2 505.8L848.2 505.9L849.2 505.9L850.2 505.9L851.2 506.0L852.2 506.0L853.2 506.1L854.2 506.1L855.2 506.1L856.2 506.1L857.2 506.1L858.2 506.1L859.2 506.1L860.2 506.1L861.2 506.1L862.2 506.0L863.2 506.0L864.2 506.0L865.2 505.9L866.2 505.9L867.2 505.9L868.2 505.8L869.2 505.8L870.2 505.8L871.2 505.7L872.2 505.7L873.2 505.6L874.2 505.6L875.2 505.6L876.2 505.5L877.2 505.5L878.2 505.4L879.2 505.4L880.2 505.3L881.2 505.2L882.2 505.2L883.2 505.1L884.2 505.0L885.2 504.9L886.2 504.9L887.1 504.8L888.1 504.7L889.1 504.6L890.1 504.5L891.1 504.4L892.1 504.3L893.1 504.2L894.1 504.1L895.1 504.0L896.1 503.9L897.1 503.7L898.1 503.6L899.1 503.4L900.1 503.3L901.1 503.1L902.1 502.9L903.1 502.8L904.1 502.6L905.1 502.4L906.1 502.2L907.1 502.1L908.1 501.9L909.1 501.7L910.1 501.5L911.1 501.3L912.1 501.2L913.1 501.0L914.1 500.7L915.1 500.5L916.1 500.3L917.1 500.1L918.1 499.9L919.1 499.7L920.1 499.4L921.1 499.2L922.1 499.0L923.1 498.7L924.1 498.5L925.1 498.3L926.1 498.0L927.0 497.8L928.0 497.5L929.0 497.3L930.0 497.0L931.0 496.7L932.0 496.5L933.0 496.2L934.0 495.9L935.0 495.6L936.0 495.3L937.0 495.0L938.0 494.7L939.0 494.4L940.0 494.1L941.0 493.8L942.0 493.5L943.0 493.2L944.0 492.8L945.0 492.5L946.0 492.2L947.0 491.8L948.0 491.5L949.0 491.1L950.0 490.7L951.0 490.3L952.0 490.0L953.0 489.6L954.0 489.2L955.0 488.8L956.0 488.4L957.0 488.0L958.0 487.6L959.0 487.2L960.0 486.8L961.0 486.4L962.0 486.0L963.0 485.6L964.0 485.2L965.0 484.8L966.0 484.3L967.0 483.9L967.9 483.5L968.9 483.0L969.9 482.6L970.9 482.1L971.9 481.7L972.9 481.2L973.9 480.7L974.9 480.2L975.9 479.7L976.9 479.2L977.9 478.6L978.9 478.1L979.9 477.5L980.9 477.0L981.9 476.3L982.9 475.7L983.9 474.9L984.9 474.2L985.9 473.4L986.9 472.6L987.9 471.7L988.9 470.8L989.9 469.9L990.9 469.0L991.9 468.1L992.9 467.1L993.9 466.1L994.9 465.1L995.9 464.1L996.9 463.1L997.9 462.1L998.9 461.1L999.9 460.0L1000.9 458.8L1001.9 457.6L1002.9 456.3L1003.9 455.0L1004.9 453.7L1005.9 452.3L1006.9 450.9L1007.9 449.5L1008.8 448.0L1009.8 446.5L1010.8 445.0L1011.8 443.5L1012.8 442.0L1013.8 440.3L1014.8 438.6L1015.8 436.8L1016.8 434.8L1017.8 432.8L1018.8 430.7L1019.8 428.6L1020.8 426.4L1021.8 424.1L1022.8 421.8L1023.8 419.2L1024.8 416.4L1025.8 413.5L1026.8 410.4L1027.8 407.2L1028.8 403.9L1029.8 400.7L1030.8 397.4L1031.8 393.9L1032.8 390.1L1033.8 385.9L1034.8 381.1L1035.8 375.4L1036.8 368.0L1037.8 359.7L1038.8 350.8L1039.8 342.0L1040.8 333.4L1041.8 324.5L1042.8 315.3L1043.8 305.5L1044.8 295.1L1045.8 283.5L1046.8 270.0L1047.8 255.2L1048.8 239.5L1049.7 255.5L1050.7 271.7L1051.7 288.3L1052.7 306.1L1053.7 323.5L1054.7 339.0L1055.7 351.7L1056.7 363.0L1057.7 372.5L1058.7 379.9L1059.7 385.5L1060.7 390.7L1061.7 395.4L1062.7 400.1L1063.7 404.8L1064.7 409.8L1065.7 414.9L1066.7 420.0L1067.7 425.0L1068.7 429.7L1069.7 433.9L1070.7 437.6L1071.7 441.1L1072.7 444.5L1073.7 447.8L1074.7 450.9L1075.7 453.8L1076.7 456.7L1077.7 459.3L1078.7 461.9L1079.7 464.3L1080.7 466.5L1081.7 468.8L1082.7 471.0L1083.7 473.2L1084.7 475.3L1085.7 477.4L1086.7 479.4L1087.7 481.4L1088.7 483.3L1089.7 485.1L1090.7 486.9L1091.7 488.6L1092.7 490.2L1093.6 491.8L1094.6 493.4L1095.6 495.0L1096.6 496.6L1097.6 498.1L1098.6 499.6L1099.6 501.1L1100.6 502.6L1101.6 504.1L1102.6 505.5L1103.6 506.9L1104.6 508.3L1105.6 509.6L1106.6 510.9L1107.6 512.2L1108.6 513.4L1109.6 514.6L1110.6 515.7L1111.6 516.8L1112.6 517.8L1113.6 518.9L1114.6 519.9L1115.6 520.9L1116.6 521.9L1117.6 522.8L1118.6 523.8L1119.6 524.8L1120.6 525.8L1121.6 526.8L1122.6 527.8L1123.6 528.9L1124.6 530.0L1125.6 531.1L1126.6 532.2L1127.6 533.3L1128.6 534.4L1129.6 535.4L1130.6 536.5L1131.6 537.5L1132.6 538.5L1133.6 539.5L1134.6 540.4L1135.6 541.3L1136.6 542.2L1137.6 542.9L1138.5 543.7L1139.5 544.4L1140.5 545.2L1141.5 545.9L1142.5 546.6L1143.5 547.2L1144.5 547.9L1145.5 548.5L1146.5 549.2L1147.5 549.8L1148.5 550.4L1149.5 550.9L1150.5 551.5L1151.5 552.0L1152.5 552.6L1153.5 553.1L1154.5 553.6L1155.5 554.1L1156.5 554.6L1157.5 555.0L1158.5 555.5L1159.5 555.9L1160.5 556.4L1161.5 556.8L1162.5 557.3L1163.5 557.7L1164.5 558.1L1165.5 558.6L1166.5 559.0L1167.5 559.4L1168.5 559.8L1169.5 560.2L1170.5 560.6L1171.5 561.0L1172.5 561.3L1173.5 561.7L1174.5 562.0L1175.5 562.3L1176.5 562.6L1177.5 562.9L1178.5 563.1L1179.5 563.4L1180.5 563.6L1181.5 563.9L1182.5 564.1L1183.4 564.4L1184.4 564.6L1185.4 564.8L1186.4 565.1L1187.4 565.3L1188.4 565.5L1189.4 565.7L1190.4 565.9L1191.4 566.1L1192.4 566.3L1193.4 566.5L1194.4 566.7L1195.4 566.8L1196.4 567.0L1197.4 567.1L1198.4 567.2L1199.4 567.4L1200.4 567.5L1201.4 567.6L1202.4 567.7L1203.4 567.8L1204.4 567.9L1205.4 568.0L1206.4 568.2L1207.4 568.3L1208.4 568.4L1209.4 568.5L1210.4 568.6L1211.4 568.7L1212.4 568.8L1213.4 568.9L1214.4 568.9L1215.4 569.0L1216.4 569.1L1217.4 569.2L1218.4 569.3L1219.4 569.3L1220.4 569.4L1221.4 569.5L1222.4 569.5L1223.4 569.6L1224.4 569.7L1225.4 569.7L1226.4 569.8L1227.3 569.8L1228.3 569.9L1229.3 570.0L1230.3 570.0L1231.3 570.1L1232.3 570.1L1233.3 570.2L1234.3 570.3L1235.3 570.3L1236.3 570.4L1237.3 570.4L1238.3 570.5L1239.3 570.5L1240.3 570.5L1241.3 570.6L1242.3 570.6L1243.3 570.7L1244.3 570.7L1245.3 570.7L1246.3 570.8L1247.3 570.8L1248.3 570.8L1249.3 570.8L1250.3 570.9L1251.3 570.9L1252.3 570.9L1253.3 571.0L1254.3 571.0L1255.3 571.0L1256.3 571.0L1257.3 571.1L1258.3 571.1L1259.3 571.1L1260.3 571.1L1261.3 571.1L1262.3 571.1L1263.3 571.1L1264.3 571.1L1265.3 571.1L1266.3 571.1L1267.3 571.1L1268.3 571.0L1269.3 571.0L1270.3 571.0L1271.3 571.0L1272.2 571.0L1273.2 570.9L1274.2 570.9L1275.2 570.9L1276.2 570.8L1277.2 570.8L1278.2 570.8L1279.2 570.7L1280.2 570.7L1281.2 570.7L1282.2 570.6L1283.2 570.6L1284.2 570.6L1285.2 570.5L1286.2 570.5L1287.2 570.4L1288.2 570.4L1289.2 570.4L1290.2 570.3L1291.2 570.3L1292.2 570.2L1293.2 570.2L1294.2 570.1L1295.2 570.1L1296.2 570.0L1297.2 570.0L1298.2 569.9L1299.2 569.9L1300.2 569.8L1301.2 569.7L1302.2 569.7L1303.2 569.6L1304.2 569.6L1305.2 569.5L1306.2 569.4L1307.2 569.4L1308.2 569.3L1309.2 569.3L1310.2 569.2L1311.2 569.1L1312.2 569.1L1313.2 569.0L1314.2 568.9L1315.2 568.9L1316.2 568.8L1317.1 568.7L1318.1 568.7L1319.1 568.6L1320.1 568.5L1321.1 568.5L1322.1 568.4L1323.1 568.3L1324.1 568.2L1325.1 568.2L1326.1 568.1L1327.1 568.0L1328.1 567.9L1329.1 567.9L1330.1 567.8L1331.1 567.7L1332.1 567.6L1333.1 567.6L1334.1 567.5L1335.1 567.4L1336.1 567.4L1337.1 567.3L1338.1 567.2L1339.1 567.1L1340.1 567.0L1341.1 567.0L1342.1 566.9L1343.1 566.8L1344.1 566.7L1345.1 566.7L1346.1 566.6L1347.1 566.5L1348.1 566.4L1349.1 566.3L1350.1 566.3L1351.1 566.2L1352.1 566.1L1353.1 566.0L1354.1 565.9L1355.1 565.8L1356.1 565.7L1357.1 565.7L1358.1 565.6L1359.1 565.5L1360.1 565.4L1361.0 565.3L1362.0 565.2L1363.0 565.1L1364.0 565.0L1365.0 564.9L1366.0 564.8L1367.0 564.7L1368.0 564.6L1369.0 564.5L1370.0 564.4L1371.0 564.3L1372.0 564.2L1373.0 564.1L1374.0 564.0L1375.0 563.9L1376.0 563.8L1377.0 563.7L1378.0 563.6L1379.0 563.5L1380.0 563.4L1381.0 563.3L1382.0 563.2L1383.0 563.1" stroke="#bf00bf" stroke-width="4.4" stroke-dasharray="16.2 3.1 8.5 3.1"/>
</g>
<g fill="none" stroke="#000" stroke-width="4.0" stroke-dasharray="11.3 10.3" stroke-dashoffset="-3">
<path d="M136.8 571.7A34.9 24.1 0 1 0 67.0 571.7A34.9 24.1 0 1 0 136.8 571.7"/>
<path d="M210.5 568.7A34.0 18.0 0 1 0 142.5 568.7A34.0 18.0 0 1 0 210.5 568.7"/>
<path d="M437.7 566.3A45.2 24.2 0 1 0 347.3 566.3A45.2 24.2 0 1 0 437.7 566.3"/>
<path d="M648.1 563.1A43.4 22.9 0 1 0 561.3 563.1A43.4 22.9 0 1 0 648.1 563.1"/>
<path d="M1267.7 562.7A44.3 30.8 0 1 0 1179.1 562.7A44.3 30.8 0 1 0 1267.7 562.7"/>
</g>
<g font-family="'Liberation Sans', Arial, sans-serif" font-size="22" fill="#1a1a1a">
<text x="62.2" y="611.7" text-anchor="middle" textLength="13.2" lengthAdjust="spacingAndGlyphs">1</text>
<text x="183.8" y="611.7" text-anchor="middle" textLength="34.3" lengthAdjust="spacingAndGlyphs">1.5</text>
<text x="302.2" y="611.7" text-anchor="middle" textLength="13.2" lengthAdjust="spacingAndGlyphs">2</text>
<text x="423.8" y="611.7" text-anchor="middle" textLength="34.3" lengthAdjust="spacingAndGlyphs">2.5</text>
<text x="542.2" y="611.7" text-anchor="middle" textLength="13.2" lengthAdjust="spacingAndGlyphs">3</text>
<text x="663.8" y="611.7" text-anchor="middle" textLength="34.3" lengthAdjust="spacingAndGlyphs">3.5</text>
<text x="782.2" y="611.7" text-anchor="middle" textLength="13.2" lengthAdjust="spacingAndGlyphs">4</text>
<text x="903.8" y="611.7" text-anchor="middle" textLength="34.3" lengthAdjust="spacingAndGlyphs">4.5</text>
<text x="1022.2" y="611.7" text-anchor="middle" textLength="13.2" lengthAdjust="spacingAndGlyphs">5</text>
<text x="1143.8" y="611.7" text-anchor="middle" textLength="34.3" lengthAdjust="spacingAndGlyphs">5.5</text>
<text x="1262.2" y="611.7" text-anchor="middle" textLength="13.2" lengthAdjust="spacingAndGlyphs">6</text>
<text x="1383.8" y="611.7" text-anchor="middle" textLength="34.3" lengthAdjust="spacingAndGlyphs">6.5</text>
<text x="55" y="590.7" text-anchor="end" textLength="13.2" lengthAdjust="spacingAndGlyphs">0</text>
<text x="55" y="508.6" text-anchor="end" textLength="27" lengthAdjust="spacingAndGlyphs">10</text>
<text x="55" y="426.5" text-anchor="end" textLength="27" lengthAdjust="spacingAndGlyphs">20</text>
<text x="55" y="344.4" text-anchor="end" textLength="27" lengthAdjust="spacingAndGlyphs">30</text>
<text x="55" y="262.2" text-anchor="end" textLength="27" lengthAdjust="spacingAndGlyphs">40</text>
<text x="55" y="180.1" text-anchor="end" textLength="27" lengthAdjust="spacingAndGlyphs">50</text>
<text x="55" y="98.0" text-anchor="end" textLength="27" lengthAdjust="spacingAndGlyphs">60</text>
<text x="55" y="14.6" text-anchor="end" textLength="27" lengthAdjust="spacingAndGlyphs">70</text>
</g>
<g font-family="'Liberation Sans', Arial, sans-serif" font-size="23" fill="#1a1a1a">
<text x="723.4" y="639.5" text-anchor="middle" textLength="199" lengthAdjust="spacingAndGlyphs">Frequency (GHz)</text>
<text transform="translate(19.4 295) rotate(-90)" text-anchor="middle" textLength="206.5" lengthAdjust="spacingAndGlyphs">Noise Figure (dB)</text>
</g>
<rect x="1276.2" y="25.3" width="89.4" height="110.2" fill="#fff" stroke="#2e2e2e" stroke-width="1.35"/>
<g fill="none">
<path d="M1281.2 37.8H1320.4" stroke="#0000ff" stroke-width="4.2"/>
<path d="M1281.2 59.9H1320.4" stroke="#ff0000" stroke-width="4.3" stroke-dasharray="16 15"/>
<path d="M1281.2 81.3H1320.4" stroke="#9a3000" stroke-width="4.3" stroke-dasharray="4.7 2.95"/>
<circle cx="1300.2000000000003" cy="101.7" r="4.1" fill="#00ff00"/>
<path d="M1281.2 123.3H1320.4" stroke="#bf00bf" stroke-width="4.4" stroke-dasharray="16.2 2.8 8.9 2.8"/>
</g>
<g font-family="'Liberation Sans', Arial, sans-serif" font-size="18.3" fill="#000" font-weight="bold" stroke="#fff" stroke-width="0.3">
<text x="1323.6" y="43.4" textLength="36.3" lengthAdjust="spacingAndGlyphs">NF1</text>
<text x="1323.6" y="65.5" textLength="36.3" lengthAdjust="spacingAndGlyphs">NF2</text>
<text x="1323.6" y="86.9" textLength="36.3" lengthAdjust="spacingAndGlyphs">NF3</text>
<text x="1323.6" y="107.9" textLength="36.3" lengthAdjust="spacingAndGlyphs">NF4</text>
<text x="1323.6" y="128.9" textLength="36.3" lengthAdjust="spacingAndGlyphs">NF5</text>
</g>
</svg>
</body></html>
